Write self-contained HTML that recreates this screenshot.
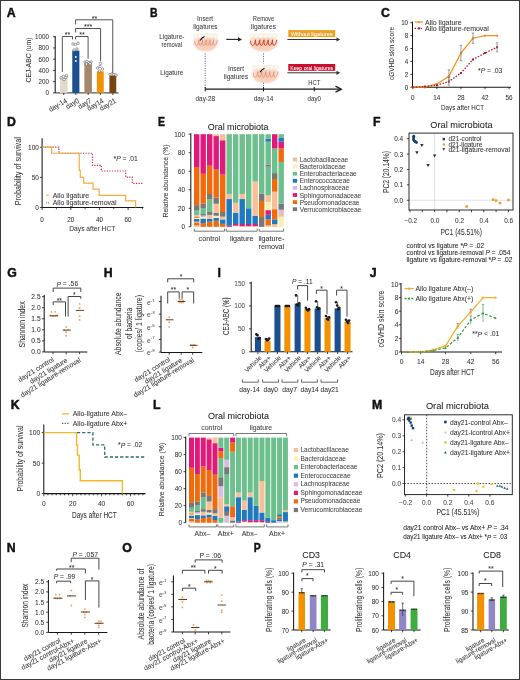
<!DOCTYPE html>
<html><head><meta charset="utf-8"><style>
html,body{margin:0;padding:0;background:#fff;}
svg{display:block;font-family:"Liberation Sans",sans-serif;filter:blur(0.4px);}
text{stroke-width:0.05px;}
</style></head><body>
<svg width="520" height="680" viewBox="0 0 520 680" fill="#333">
<rect x="0" y="0" width="520" height="680" fill="#fff"/>
<text x="6.80" y="12.70" font-size="12.3" text-anchor="start" dominant-baseline="central" font-weight="bold" fill="#111" textLength="8.88" lengthAdjust="spacingAndGlyphs" style="stroke-width:0.45px" stroke="#111">A</text>
<line x1="55.20" y1="36.00" x2="55.20" y2="92.90" stroke="#161616" stroke-width="1.05"/>
<line x1="53.00" y1="36.70" x2="55.20" y2="36.70" stroke="#161616" stroke-width="0.8"/>
<text x="49.00" y="36.70" font-size="6.5" text-anchor="end" dominant-baseline="central" textLength="13.88" lengthAdjust="spacingAndGlyphs" stroke="#333">1000</text>
<line x1="53.00" y1="47.94" x2="55.20" y2="47.94" stroke="#161616" stroke-width="0.8"/>
<text x="49.00" y="47.94" font-size="6.5" text-anchor="end" dominant-baseline="central" textLength="10.41" lengthAdjust="spacingAndGlyphs" stroke="#333">800</text>
<line x1="53.00" y1="59.18" x2="55.20" y2="59.18" stroke="#161616" stroke-width="0.8"/>
<text x="49.00" y="59.18" font-size="6.5" text-anchor="end" dominant-baseline="central" textLength="10.41" lengthAdjust="spacingAndGlyphs" stroke="#333">600</text>
<line x1="53.00" y1="70.42" x2="55.20" y2="70.42" stroke="#161616" stroke-width="0.8"/>
<text x="49.00" y="70.42" font-size="6.5" text-anchor="end" dominant-baseline="central" textLength="10.41" lengthAdjust="spacingAndGlyphs" stroke="#333">400</text>
<line x1="53.00" y1="81.66" x2="55.20" y2="81.66" stroke="#161616" stroke-width="0.8"/>
<text x="49.00" y="81.66" font-size="6.5" text-anchor="end" dominant-baseline="central" textLength="10.41" lengthAdjust="spacingAndGlyphs" stroke="#333">200</text>
<line x1="53.00" y1="92.90" x2="55.20" y2="92.90" stroke="#161616" stroke-width="0.8"/>
<text x="49.00" y="92.90" font-size="6.5" text-anchor="end" dominant-baseline="central" textLength="3.47" lengthAdjust="spacingAndGlyphs" stroke="#333">0</text>
<text x="28.80" y="60.00" font-size="7.8" text-anchor="middle" dominant-baseline="central" textLength="45.00" lengthAdjust="spacingAndGlyphs" transform="rotate(-90 28.80 60.00)" stroke="#333">CEJ-ABC (um)</text>
<line x1="55.20" y1="92.90" x2="118.50" y2="92.90" stroke="#161616" stroke-width="0.9"/>
<rect x="60.00" y="78.75" width="7.50" height="14.15" fill="#e2d8cc"/>
<line x1="63.75" y1="92.90" x2="63.75" y2="95.00" stroke="#161616" stroke-width="0.8"/>
<rect x="72.25" y="50.60" width="7.15" height="42.30" fill="#1b4f8f"/>
<line x1="75.83" y1="92.90" x2="75.83" y2="95.00" stroke="#161616" stroke-width="0.8"/>
<rect x="84.40" y="63.10" width="7.50" height="29.80" fill="#a5876b"/>
<line x1="88.15" y1="92.90" x2="88.15" y2="95.00" stroke="#161616" stroke-width="0.8"/>
<rect x="96.90" y="71.25" width="6.85" height="21.65" fill="#f39200"/>
<line x1="100.33" y1="92.90" x2="100.33" y2="95.00" stroke="#161616" stroke-width="0.8"/>
<rect x="109.40" y="75.60" width="6.85" height="17.30" fill="#7a4316"/>
<line x1="112.83" y1="92.90" x2="112.83" y2="95.00" stroke="#161616" stroke-width="0.8"/>
<circle cx="61.00" cy="77.80" r="1.25" fill="#fff" stroke="#555" stroke-width="0.55"/>
<circle cx="63.50" cy="76.50" r="1.25" fill="#fff" stroke="#555" stroke-width="0.55"/>
<circle cx="66.00" cy="77.50" r="1.25" fill="#fff" stroke="#555" stroke-width="0.55"/>
<circle cx="64.00" cy="79.50" r="1.25" fill="#fff" stroke="#555" stroke-width="0.55"/>
<circle cx="66.50" cy="75.50" r="1.25" fill="#fff" stroke="#555" stroke-width="0.55"/>
<circle cx="73.00" cy="44.00" r="1.25" fill="#fff" stroke="#555" stroke-width="0.55"/>
<circle cx="75.50" cy="44.50" r="1.25" fill="#fff" stroke="#555" stroke-width="0.55"/>
<circle cx="78.00" cy="43.20" r="1.25" fill="#fff" stroke="#555" stroke-width="0.55"/>
<circle cx="77.00" cy="49.00" r="1.25" fill="#fff" stroke="#555" stroke-width="0.55"/>
<circle cx="74.00" cy="50.00" r="1.25" fill="#fff" stroke="#555" stroke-width="0.55"/>
<circle cx="85.00" cy="62.00" r="1.25" fill="#fff" stroke="#555" stroke-width="0.55"/>
<circle cx="87.00" cy="61.50" r="1.25" fill="#fff" stroke="#555" stroke-width="0.55"/>
<circle cx="89.00" cy="62.50" r="1.25" fill="#fff" stroke="#555" stroke-width="0.55"/>
<circle cx="91.00" cy="62.00" r="1.25" fill="#fff" stroke="#555" stroke-width="0.55"/>
<circle cx="86.50" cy="64.00" r="1.25" fill="#fff" stroke="#555" stroke-width="0.55"/>
<circle cx="90.00" cy="63.70" r="1.25" fill="#fff" stroke="#555" stroke-width="0.55"/>
<circle cx="97.50" cy="68.00" r="1.25" fill="#fff" stroke="#555" stroke-width="0.55"/>
<circle cx="100.00" cy="66.50" r="1.25" fill="#fff" stroke="#555" stroke-width="0.55"/>
<circle cx="102.50" cy="69.00" r="1.25" fill="#fff" stroke="#555" stroke-width="0.55"/>
<circle cx="100.50" cy="63.50" r="1.25" fill="#fff" stroke="#555" stroke-width="0.55"/>
<circle cx="99.50" cy="71.00" r="1.25" fill="#fff" stroke="#555" stroke-width="0.55"/>
<circle cx="110.00" cy="74.50" r="1.25" fill="#fff" stroke="#555" stroke-width="0.55"/>
<circle cx="112.00" cy="74.00" r="1.25" fill="#fff" stroke="#555" stroke-width="0.55"/>
<circle cx="114.00" cy="74.50" r="1.25" fill="#fff" stroke="#555" stroke-width="0.55"/>
<circle cx="116.00" cy="75.00" r="1.25" fill="#fff" stroke="#555" stroke-width="0.55"/>
<circle cx="75.80" cy="57.00" r="0.9" fill="#fff"/>
<circle cx="75.80" cy="61.00" r="0.9" fill="#fff"/>
<polyline points="62.30,72.00 62.30,36.50 72.50,36.50 72.50,39.40" fill="none" stroke="#4a4a4a" stroke-width="0.95"/>
<polyline points="75.60,39.40 75.60,36.50 88.10,36.50 88.10,58.70" fill="none" stroke="#4a4a4a" stroke-width="0.95"/>
<polyline points="75.60,32.50 75.60,28.50 100.60,28.50 100.60,61.20" fill="none" stroke="#4a4a4a" stroke-width="0.95"/>
<polyline points="75.60,24.40 75.60,19.80 112.75,19.80 112.75,73.00" fill="none" stroke="#4a4a4a" stroke-width="0.95"/>
<text x="67.40" y="34.90" font-size="7" text-anchor="middle" dominant-baseline="central" stroke="#333">**</text>
<text x="81.90" y="34.90" font-size="7" text-anchor="middle" dominant-baseline="central" stroke="#333">**</text>
<text x="88.20" y="26.80" font-size="7" text-anchor="middle" dominant-baseline="central" stroke="#333">***</text>
<text x="94.40" y="18.00" font-size="7" text-anchor="middle" dominant-baseline="central" stroke="#333">**</text>
<text x="66.35" y="100.00" font-size="7.2" text-anchor="end" dominant-baseline="central" textLength="19.81" lengthAdjust="spacingAndGlyphs" transform="rotate(-30 66.35 100.00)" stroke="#333">day-14</text>
<text x="78.40" y="100.00" font-size="7.2" text-anchor="end" dominant-baseline="central" textLength="14.05" lengthAdjust="spacingAndGlyphs" transform="rotate(-30 78.40 100.00)" stroke="#333">day0</text>
<text x="90.75" y="100.00" font-size="7.2" text-anchor="end" dominant-baseline="central" textLength="14.05" lengthAdjust="spacingAndGlyphs" transform="rotate(-30 90.75 100.00)" stroke="#333">day7</text>
<text x="102.90" y="100.00" font-size="7.2" text-anchor="end" dominant-baseline="central" textLength="17.65" lengthAdjust="spacingAndGlyphs" transform="rotate(-30 102.90 100.00)" stroke="#333">day14</text>
<text x="115.40" y="100.00" font-size="7.2" text-anchor="end" dominant-baseline="central" textLength="17.65" lengthAdjust="spacingAndGlyphs" transform="rotate(-30 115.40 100.00)" stroke="#333">day21</text>
<text x="149.90" y="12.60" font-size="12.3" text-anchor="start" dominant-baseline="central" font-weight="bold" fill="#111" textLength="7.55" lengthAdjust="spacingAndGlyphs" style="stroke-width:0.45px" stroke="#111">B</text>
<text x="171.80" y="36.90" font-size="7.2" text-anchor="middle" dominant-baseline="central" fill="#3a3a3a" textLength="25.00" lengthAdjust="spacingAndGlyphs" stroke="#3a3a3a">Ligature-</text>
<text x="171.80" y="44.50" font-size="7.2" text-anchor="middle" dominant-baseline="central" fill="#3a3a3a" textLength="20.50" lengthAdjust="spacingAndGlyphs" stroke="#3a3a3a">removal</text>
<text x="171.80" y="72.20" font-size="7.2" text-anchor="middle" dominant-baseline="central" fill="#3a3a3a" textLength="23.00" lengthAdjust="spacingAndGlyphs" stroke="#3a3a3a">Ligature</text>
<text x="205.10" y="18.10" font-size="7.2" text-anchor="middle" dominant-baseline="central" fill="#3a3a3a" textLength="16.00" lengthAdjust="spacingAndGlyphs" stroke="#3a3a3a">Insert</text>
<text x="205.30" y="26.20" font-size="7.2" text-anchor="middle" dominant-baseline="central" fill="#3a3a3a" textLength="24.30" lengthAdjust="spacingAndGlyphs" stroke="#3a3a3a">ligatures</text>
<text x="263.50" y="18.10" font-size="7.2" text-anchor="middle" dominant-baseline="central" fill="#3a3a3a" textLength="21.30" lengthAdjust="spacingAndGlyphs" stroke="#3a3a3a">Remove</text>
<text x="263.50" y="26.20" font-size="7.2" text-anchor="middle" dominant-baseline="central" fill="#3a3a3a" textLength="25.00" lengthAdjust="spacingAndGlyphs" stroke="#3a3a3a">ligatures</text>
<text x="236.00" y="68.80" font-size="7.2" text-anchor="middle" dominant-baseline="central" fill="#3a3a3a" textLength="16.00" lengthAdjust="spacingAndGlyphs" stroke="#3a3a3a">Insert</text>
<text x="236.00" y="76.50" font-size="7.2" text-anchor="middle" dominant-baseline="central" fill="#3a3a3a" textLength="24.30" lengthAdjust="spacingAndGlyphs" stroke="#3a3a3a">ligatures</text>
<text x="314.30" y="82.60" font-size="7.2" text-anchor="middle" dominant-baseline="central" fill="#3a3a3a" textLength="12.00" lengthAdjust="spacingAndGlyphs" stroke="#3a3a3a">HCT</text>
<text x="205.30" y="98.30" font-size="7.2" text-anchor="middle" dominant-baseline="central" fill="#3a3a3a" textLength="19.50" lengthAdjust="spacingAndGlyphs" stroke="#3a3a3a">day-28</text>
<text x="263.50" y="98.30" font-size="7.2" text-anchor="middle" dominant-baseline="central" fill="#3a3a3a" textLength="19.50" lengthAdjust="spacingAndGlyphs" stroke="#3a3a3a">day-14</text>
<text x="314.30" y="98.30" font-size="7.2" text-anchor="middle" dominant-baseline="central" fill="#3a3a3a" textLength="13.50" lengthAdjust="spacingAndGlyphs" stroke="#3a3a3a">day0</text>
<defs>
<radialGradient id="gum" cx="50%" cy="45%" r="55%">
<stop offset="0%" stop-color="#f6c9b3"/><stop offset="65%" stop-color="#f9dccc"/><stop offset="100%" stop-color="#fef4ee"/>
</radialGradient>
<filter id="sb" x="-20%" y="-20%" width="140%" height="140%"><feGaussianBlur stdDeviation="0.45"/></filter>
</defs>
<g filter="url(#sb)"><ellipse cx="205.7" cy="42.8" rx="13.0" ry="9.4" fill="url(#gum)"/><ellipse cx="205.7" cy="46.3" rx="10.0" ry="4.8" fill="#f4c2a4" opacity="0.45"/><ellipse cx="195.9" cy="35.8" rx="2.6" ry="2.3" fill="#fbf7ef" stroke="#e6dccc" stroke-width="0.3"/><ellipse cx="199.8" cy="35.8" rx="2.6" ry="2.3" fill="#fbf7ef" stroke="#e6dccc" stroke-width="0.3"/><ellipse cx="203.7" cy="35.8" rx="2.6" ry="2.3" fill="#fbf7ef" stroke="#e6dccc" stroke-width="0.3"/><ellipse cx="207.7" cy="35.8" rx="2.6" ry="2.3" fill="#fbf7ef" stroke="#e6dccc" stroke-width="0.3"/><ellipse cx="211.6" cy="35.8" rx="2.6" ry="2.3" fill="#fbf7ef" stroke="#e6dccc" stroke-width="0.3"/><ellipse cx="215.5" cy="35.8" rx="2.6" ry="2.3" fill="#fbf7ef" stroke="#e6dccc" stroke-width="0.3"/><path d="M194.7,40.8 C194.9,47.3 197.8,47.3 199.0,39.8 C198.6,47.3 201.4,47.3 202.6,39.8 C202.2,47.3 205.1,47.3 206.3,39.8 C205.9,47.3 208.8,47.3 210.0,39.8 C209.6,47.3 212.4,47.3 213.6,39.8 C213.2,47.3 216.1,47.3 217.3,39.8 " fill="none" stroke="#e58a78" stroke-width="0.75" stroke-linejoin="round"/><path d="M200.0,40.5 Q202.0,37.5 204.5,36.5" fill="none" stroke="#111" stroke-width="1.1"/></g>
<g filter="url(#sb)"><ellipse cx="263.4" cy="42.8" rx="14.8" ry="9.4" fill="url(#gum)"/><ellipse cx="263.4" cy="46.3" rx="11.8" ry="4.8" fill="#f4c2a4" opacity="0.45"/><ellipse cx="251.8" cy="35.8" rx="2.6" ry="2.3" fill="#fbf7ef" stroke="#e6dccc" stroke-width="0.3"/><ellipse cx="256.5" cy="35.8" rx="2.6" ry="2.3" fill="#fbf7ef" stroke="#e6dccc" stroke-width="0.3"/><ellipse cx="261.1" cy="35.8" rx="2.6" ry="2.3" fill="#fbf7ef" stroke="#e6dccc" stroke-width="0.3"/><ellipse cx="265.7" cy="35.8" rx="2.6" ry="2.3" fill="#fbf7ef" stroke="#e6dccc" stroke-width="0.3"/><ellipse cx="270.3" cy="35.8" rx="2.6" ry="2.3" fill="#fbf7ef" stroke="#e6dccc" stroke-width="0.3"/><ellipse cx="274.9" cy="35.8" rx="2.6" ry="2.3" fill="#fbf7ef" stroke="#e6dccc" stroke-width="0.3"/><path d="M250.6,40.8 C250.8,47.3 254.3,47.3 255.5,39.8 C255.1,47.3 258.5,47.3 259.8,39.8 C259.3,47.3 262.8,47.3 264.0,39.8 C263.6,47.3 267.0,47.3 268.2,39.8 C267.8,47.3 271.3,47.3 272.5,39.8 C272.1,47.3 275.5,47.3 276.8,39.8 " fill="none" stroke="#d63a2c" stroke-width="1.0" stroke-linejoin="round"/></g>
<g filter="url(#sb)"><ellipse cx="265.3" cy="74.6" rx="14.0" ry="9.4" fill="url(#gum)"/><ellipse cx="265.3" cy="78.1" rx="11.0" ry="4.8" fill="#f4c2a4" opacity="0.45"/><ellipse cx="254.5" cy="67.5" rx="2.6" ry="2.3" fill="#fbf7ef" stroke="#e6dccc" stroke-width="0.3"/><ellipse cx="258.8" cy="67.5" rx="2.6" ry="2.3" fill="#fbf7ef" stroke="#e6dccc" stroke-width="0.3"/><ellipse cx="263.1" cy="67.5" rx="2.6" ry="2.3" fill="#fbf7ef" stroke="#e6dccc" stroke-width="0.3"/><ellipse cx="267.5" cy="67.5" rx="2.6" ry="2.3" fill="#fbf7ef" stroke="#e6dccc" stroke-width="0.3"/><ellipse cx="271.8" cy="67.5" rx="2.6" ry="2.3" fill="#fbf7ef" stroke="#e6dccc" stroke-width="0.3"/><ellipse cx="276.1" cy="67.5" rx="2.6" ry="2.3" fill="#fbf7ef" stroke="#e6dccc" stroke-width="0.3"/><path d="M253.3,72.6 C253.5,79.1 256.7,79.1 257.9,71.6 C257.5,79.1 260.7,79.1 261.9,71.6 C261.5,79.1 264.7,79.1 265.9,71.6 C265.5,79.1 268.7,79.1 269.9,71.6 C269.5,79.1 272.7,79.1 273.9,71.6 C273.5,79.1 276.7,79.1 277.9,71.6 " fill="none" stroke="#e58a78" stroke-width="0.75" stroke-linejoin="round"/><path d="M260.0,72.2 Q262.0,69.2 264.5,68.2" fill="none" stroke="#111" stroke-width="1.1"/></g>
<line x1="226.30" y1="39.40" x2="238.50" y2="39.40" stroke="#222" stroke-width="1.1"/>
<polygon points="238,37.3 242,39.4 238,41.5" fill="#222"/>
<line x1="205.20" y1="53.50" x2="205.20" y2="88.50" stroke="#333" stroke-width="0.8" stroke-dasharray="1,1.4"/>
<line x1="263.50" y1="53.50" x2="263.50" y2="63.50" stroke="#333" stroke-width="0.8" stroke-dasharray="1,1.4"/>
<line x1="263.50" y1="82.70" x2="263.50" y2="88.50" stroke="#333" stroke-width="0.8" stroke-dasharray="1,1.4"/>
<rect x="288.30" y="30.10" width="46.90" height="7.00" fill="#f0a020"/>
<text x="311.70" y="33.70" font-size="6.2" text-anchor="middle" dominant-baseline="central" fill="#fff" textLength="42.00" lengthAdjust="spacingAndGlyphs" stroke="#fff">Without ligatures</text>
<rect x="288.30" y="64.00" width="46.90" height="6.80" fill="#c8102e"/>
<text x="311.70" y="67.50" font-size="6.2" text-anchor="middle" dominant-baseline="central" fill="#fff" textLength="43.00" lengthAdjust="spacingAndGlyphs" stroke="#fff">Keep oral ligatures</text>
<line x1="287.40" y1="39.50" x2="337.50" y2="39.50" stroke="#333" stroke-width="1.0"/>
<polygon points="336.5,37.4 340.2,39.5 336.5,41.6" fill="#333"/>
<line x1="287.40" y1="72.80" x2="337.50" y2="72.80" stroke="#333" stroke-width="1.0"/>
<polygon points="336.5,70.7 340.2,72.8 336.5,74.9" fill="#333"/>
<line x1="205.20" y1="89.20" x2="340.00" y2="89.20" stroke="#1a1a1a" stroke-width="1.3"/>
<polyline points="335.50,86.20 341.30,89.20 335.50,92.20" fill="none" stroke="#1a1a1a" stroke-width="1.3"/>
<line x1="205.20" y1="87.00" x2="205.20" y2="91.40" stroke="#1a1a1a" stroke-width="1.0"/>
<line x1="263.50" y1="87.00" x2="263.50" y2="91.40" stroke="#1a1a1a" stroke-width="1.0"/>
<line x1="314.30" y1="87.00" x2="314.30" y2="91.40" stroke="#1a1a1a" stroke-width="1.0"/>
<text x="381.00" y="12.60" font-size="12.3" text-anchor="start" dominant-baseline="central" font-weight="bold" fill="#111" textLength="8.88" lengthAdjust="spacingAndGlyphs" style="stroke-width:0.45px" stroke="#111">C</text>
<line x1="412.50" y1="21.50" x2="412.50" y2="87.20" stroke="#161616" stroke-width="1.05"/>
<line x1="410.30" y1="22.75" x2="412.50" y2="22.75" stroke="#161616" stroke-width="0.8"/>
<text x="408.10" y="22.75" font-size="6.5" text-anchor="end" dominant-baseline="central" textLength="6.94" lengthAdjust="spacingAndGlyphs" stroke="#333">10</text>
<line x1="410.30" y1="35.64" x2="412.50" y2="35.64" stroke="#161616" stroke-width="0.8"/>
<text x="408.10" y="35.64" font-size="6.5" text-anchor="end" dominant-baseline="central" textLength="3.47" lengthAdjust="spacingAndGlyphs" stroke="#333">8</text>
<line x1="410.30" y1="48.53" x2="412.50" y2="48.53" stroke="#161616" stroke-width="0.8"/>
<text x="408.10" y="48.53" font-size="6.5" text-anchor="end" dominant-baseline="central" textLength="3.47" lengthAdjust="spacingAndGlyphs" stroke="#333">6</text>
<line x1="410.30" y1="61.42" x2="412.50" y2="61.42" stroke="#161616" stroke-width="0.8"/>
<text x="408.10" y="61.42" font-size="6.5" text-anchor="end" dominant-baseline="central" textLength="3.47" lengthAdjust="spacingAndGlyphs" stroke="#333">4</text>
<line x1="410.30" y1="74.31" x2="412.50" y2="74.31" stroke="#161616" stroke-width="0.8"/>
<text x="408.10" y="74.31" font-size="6.5" text-anchor="end" dominant-baseline="central" textLength="3.47" lengthAdjust="spacingAndGlyphs" stroke="#333">2</text>
<line x1="410.30" y1="87.20" x2="412.50" y2="87.20" stroke="#161616" stroke-width="0.8"/>
<text x="408.10" y="87.20" font-size="6.5" text-anchor="end" dominant-baseline="central" textLength="3.47" lengthAdjust="spacingAndGlyphs" stroke="#333">0</text>
<line x1="412.50" y1="87.20" x2="511.00" y2="87.20" stroke="#161616" stroke-width="1.05"/>
<line x1="412.80" y1="87.00" x2="412.80" y2="89.20" stroke="#161616" stroke-width="0.8"/>
<text x="412.80" y="97.00" font-size="6.7" text-anchor="middle" dominant-baseline="central" textLength="3.54" lengthAdjust="spacingAndGlyphs" stroke="#333">0</text>
<line x1="436.88" y1="87.00" x2="436.88" y2="89.20" stroke="#161616" stroke-width="0.8"/>
<text x="436.88" y="97.00" font-size="6.7" text-anchor="middle" dominant-baseline="central" textLength="7.08" lengthAdjust="spacingAndGlyphs" stroke="#333">14</text>
<line x1="460.95" y1="87.00" x2="460.95" y2="89.20" stroke="#161616" stroke-width="0.8"/>
<text x="460.95" y="97.00" font-size="6.7" text-anchor="middle" dominant-baseline="central" textLength="7.08" lengthAdjust="spacingAndGlyphs" stroke="#333">28</text>
<line x1="485.03" y1="87.00" x2="485.03" y2="89.20" stroke="#161616" stroke-width="0.8"/>
<text x="485.03" y="97.00" font-size="6.7" text-anchor="middle" dominant-baseline="central" textLength="7.08" lengthAdjust="spacingAndGlyphs" stroke="#333">42</text>
<line x1="509.10" y1="87.00" x2="509.10" y2="89.20" stroke="#161616" stroke-width="0.8"/>
<text x="509.10" y="97.00" font-size="6.7" text-anchor="middle" dominant-baseline="central" textLength="7.08" lengthAdjust="spacingAndGlyphs" stroke="#333">56</text>
<text x="462.60" y="107.80" font-size="8" text-anchor="middle" dominant-baseline="central" textLength="43.20" lengthAdjust="spacingAndGlyphs" stroke="#333">Days after HCT</text>
<text x="391.80" y="53.50" font-size="8" text-anchor="middle" dominant-baseline="central" textLength="53.00" lengthAdjust="spacingAndGlyphs" transform="rotate(-90 391.80 53.50)" stroke="#333">cGVHD skin score</text>
<polyline points="412.80,87.20 424.84,87.20 436.88,83.98 448.91,76.24 460.95,53.04 472.99,38.22 485.03,35.64 497.06,35.64" fill="none" stroke="#f0941e" stroke-width="1.3"/>
<polyline points="412.80,87.20 424.84,86.56 436.88,85.27 448.91,81.40 460.95,73.02 472.99,59.49 485.03,53.04 497.06,47.24" fill="none" stroke="#b3192e" stroke-width="1.3" stroke-dasharray="1.5,1.5"/>
<circle cx="412.80" cy="87.20" r="1.2" fill="#f0941e"/>
<circle cx="424.84" cy="87.20" r="1.2" fill="#f0941e"/>
<circle cx="436.88" cy="83.98" r="1.2" fill="#f0941e"/>
<circle cx="448.91" cy="76.24" r="1.2" fill="#f0941e"/>
<circle cx="460.95" cy="53.04" r="1.2" fill="#f0941e"/>
<circle cx="472.99" cy="38.22" r="1.2" fill="#f0941e"/>
<circle cx="485.03" cy="35.64" r="1.2" fill="#f0941e"/>
<circle cx="497.06" cy="35.64" r="1.2" fill="#f0941e"/>
<rect x="411.80" y="86.20" width="2.00" height="2.00" fill="#b3192e"/>
<rect x="423.84" y="85.56" width="2.00" height="2.00" fill="#b3192e"/>
<rect x="435.88" y="84.27" width="2.00" height="2.00" fill="#b3192e"/>
<rect x="447.91" y="80.40" width="2.00" height="2.00" fill="#b3192e"/>
<rect x="459.95" y="72.02" width="2.00" height="2.00" fill="#b3192e"/>
<rect x="471.99" y="58.49" width="2.00" height="2.00" fill="#b3192e"/>
<rect x="484.03" y="52.04" width="2.00" height="2.00" fill="#b3192e"/>
<rect x="496.06" y="46.24" width="2.00" height="2.00" fill="#b3192e"/>
<line x1="448.91" y1="82.69" x2="448.91" y2="69.80" stroke="#777" stroke-width="0.7"/>
<line x1="447.71" y1="69.80" x2="450.11" y2="69.80" stroke="#777" stroke-width="0.7"/>
<line x1="447.71" y1="82.69" x2="450.11" y2="82.69" stroke="#777" stroke-width="0.7"/>
<line x1="460.95" y1="60.78" x2="460.95" y2="45.31" stroke="#777" stroke-width="0.7"/>
<line x1="459.75" y1="45.31" x2="462.15" y2="45.31" stroke="#777" stroke-width="0.7"/>
<line x1="459.75" y1="60.78" x2="462.15" y2="60.78" stroke="#777" stroke-width="0.7"/>
<line x1="472.99" y1="43.37" x2="472.99" y2="33.06" stroke="#777" stroke-width="0.7"/>
<line x1="471.79" y1="33.06" x2="474.19" y2="33.06" stroke="#777" stroke-width="0.7"/>
<line x1="471.79" y1="43.37" x2="474.19" y2="43.37" stroke="#777" stroke-width="0.7"/>
<line x1="448.91" y1="85.27" x2="448.91" y2="77.53" stroke="#777" stroke-width="0.7"/>
<line x1="447.71" y1="77.53" x2="450.11" y2="77.53" stroke="#777" stroke-width="0.7"/>
<line x1="447.71" y1="85.27" x2="450.11" y2="85.27" stroke="#777" stroke-width="0.7"/>
<line x1="497.06" y1="51.75" x2="497.06" y2="42.73" stroke="#777" stroke-width="0.7"/>
<line x1="495.86" y1="42.73" x2="498.26" y2="42.73" stroke="#777" stroke-width="0.7"/>
<line x1="495.86" y1="51.75" x2="498.26" y2="51.75" stroke="#777" stroke-width="0.7"/>
<line x1="414.60" y1="22.00" x2="423.00" y2="22.00" stroke="#f0941e" stroke-width="1.2"/>
<circle cx="418.80" cy="22.00" r="1.1" fill="#f0941e"/>
<text x="425.00" y="22.00" font-size="7" text-anchor="start" dominant-baseline="central" stroke="#333">Allo ligature</text>
<line x1="414.60" y1="28.40" x2="423.00" y2="28.40" stroke="#b3192e" stroke-width="1.2" stroke-dasharray="1.5,1.5"/>
<rect x="418.00" y="27.40" width="2.00" height="2.00" fill="#b3192e"/>
<text x="425.00" y="28.40" font-size="7" text-anchor="start" dominant-baseline="central" stroke="#333">Allo ligature-removal</text>
<text x="478" y="70" font-size="6.8" dominant-baseline="central" fill="#333" stroke="#333">*<tspan font-style="italic">P</tspan> = .03</text>
<text x="7.00" y="122.20" font-size="12.3" text-anchor="start" dominant-baseline="central" font-weight="bold" fill="#111" textLength="8.88" lengthAdjust="spacingAndGlyphs" style="stroke-width:0.45px" stroke="#111">D</text>
<line x1="42.10" y1="138.30" x2="42.10" y2="207.50" stroke="#161616" stroke-width="1.05"/>
<line x1="39.90" y1="147.20" x2="42.10" y2="147.20" stroke="#161616" stroke-width="0.8"/>
<text x="38.90" y="147.20" font-size="6.8" text-anchor="end" dominant-baseline="central" textLength="10.78" lengthAdjust="spacingAndGlyphs" stroke="#333">100</text>
<line x1="39.90" y1="177.35" x2="42.10" y2="177.35" stroke="#161616" stroke-width="0.8"/>
<text x="38.90" y="177.35" font-size="6.8" text-anchor="end" dominant-baseline="central" textLength="7.18" lengthAdjust="spacingAndGlyphs" stroke="#333">50</text>
<line x1="39.90" y1="207.50" x2="42.10" y2="207.50" stroke="#161616" stroke-width="0.8"/>
<text x="38.90" y="207.50" font-size="6.8" text-anchor="end" dominant-baseline="central" textLength="3.59" lengthAdjust="spacingAndGlyphs" stroke="#333">0</text>
<line x1="42.10" y1="207.50" x2="143.40" y2="207.50" stroke="#161616" stroke-width="1.05"/>
<line x1="42.10" y1="207.50" x2="42.10" y2="210.00" stroke="#161616" stroke-width="0.8"/>
<line x1="56.43" y1="207.50" x2="56.43" y2="209.30" stroke="#161616" stroke-width="0.7"/>
<line x1="70.76" y1="207.50" x2="70.76" y2="210.00" stroke="#161616" stroke-width="0.8"/>
<line x1="85.09" y1="207.50" x2="85.09" y2="209.30" stroke="#161616" stroke-width="0.7"/>
<line x1="99.42" y1="207.50" x2="99.42" y2="210.00" stroke="#161616" stroke-width="0.8"/>
<line x1="113.75" y1="207.50" x2="113.75" y2="209.30" stroke="#161616" stroke-width="0.7"/>
<line x1="128.08" y1="207.50" x2="128.08" y2="210.00" stroke="#161616" stroke-width="0.8"/>
<line x1="142.41" y1="207.50" x2="142.41" y2="209.30" stroke="#161616" stroke-width="0.7"/>
<text x="42.10" y="219.30" font-size="6.7" text-anchor="middle" dominant-baseline="central" textLength="3.54" lengthAdjust="spacingAndGlyphs" stroke="#333">0</text>
<text x="70.76" y="219.30" font-size="6.7" text-anchor="middle" dominant-baseline="central" textLength="7.08" lengthAdjust="spacingAndGlyphs" stroke="#333">20</text>
<text x="99.42" y="219.30" font-size="6.7" text-anchor="middle" dominant-baseline="central" textLength="7.08" lengthAdjust="spacingAndGlyphs" stroke="#333">40</text>
<text x="128.08" y="219.30" font-size="6.7" text-anchor="middle" dominant-baseline="central" textLength="7.08" lengthAdjust="spacingAndGlyphs" stroke="#333">60</text>
<text x="92.30" y="228.50" font-size="8" text-anchor="middle" dominant-baseline="central" textLength="46.00" lengthAdjust="spacingAndGlyphs" stroke="#333">Days after HCT</text>
<text x="17.60" y="171.20" font-size="8.3" text-anchor="middle" dominant-baseline="central" textLength="68.00" lengthAdjust="spacingAndGlyphs" transform="rotate(-90 17.60 171.20)" stroke="#333">Probability of survival</text>
<polyline points="42.10,147.20 58.90,147.20 58.90,153.23 92.50,153.23 92.50,165.29 101.30,165.29 101.30,171.02 125.70,171.02 125.70,177.05 132.30,177.05 132.30,183.38 143.40,183.38" fill="none" stroke="#cc3550" stroke-width="1.2" stroke-dasharray="1.3,1.3"/>
<polyline points="42.10,147.20 51.60,147.20 51.60,153.23 79.20,153.23 79.20,170.42 80.30,170.42 80.30,177.35 83.70,177.35 83.70,183.08 93.00,183.08 93.00,189.11 99.10,189.11 99.10,195.44 125.70,195.44 125.70,200.87 135.60,200.87 135.60,207.50" fill="none" stroke="#f0ad3f" stroke-width="1.2"/>
<text x="113.5" y="158.2" font-size="6.8" dominant-baseline="central" stroke="#333">*<tspan font-style="italic">P</tspan> = .01</text>
<line x1="46.00" y1="195.20" x2="49.40" y2="195.20" stroke="#f0ad3f" stroke-width="1.0"/>
<text x="52.70" y="195.20" font-size="7" text-anchor="start" dominant-baseline="central" stroke="#333">Allo ligature</text>
<line x1="46.00" y1="202.90" x2="49.40" y2="202.90" stroke="#cc3550" stroke-width="1.0" stroke-dasharray="1,1"/>
<text x="52.70" y="202.90" font-size="7" text-anchor="start" dominant-baseline="central" stroke="#333">Allo ligature-removal</text>
<text x="157.90" y="122.40" font-size="12.3" text-anchor="start" dominant-baseline="central" font-weight="bold" fill="#111" textLength="6.97" lengthAdjust="spacingAndGlyphs" style="stroke-width:0.45px" stroke="#111">E</text>
<text x="238.10" y="126.80" font-size="9.0" text-anchor="middle" dominant-baseline="central" fill="#222" textLength="60.80" lengthAdjust="spacingAndGlyphs" stroke="#222">Oral microbiota</text>
<line x1="190.80" y1="133.30" x2="190.80" y2="226.80" stroke="#161616" stroke-width="1.05"/>
<line x1="188.60" y1="134.20" x2="190.80" y2="134.20" stroke="#161616" stroke-width="0.8"/>
<text x="185.00" y="134.20" font-size="6.9" text-anchor="end" dominant-baseline="central" textLength="10.71" lengthAdjust="spacingAndGlyphs" stroke="#333">100</text>
<line x1="188.60" y1="152.72" x2="190.80" y2="152.72" stroke="#161616" stroke-width="0.8"/>
<text x="185.00" y="152.72" font-size="6.9" text-anchor="end" dominant-baseline="central" textLength="7.14" lengthAdjust="spacingAndGlyphs" stroke="#333">80</text>
<line x1="188.60" y1="171.24" x2="190.80" y2="171.24" stroke="#161616" stroke-width="0.8"/>
<text x="185.00" y="171.24" font-size="6.9" text-anchor="end" dominant-baseline="central" textLength="7.14" lengthAdjust="spacingAndGlyphs" stroke="#333">60</text>
<line x1="188.60" y1="189.76" x2="190.80" y2="189.76" stroke="#161616" stroke-width="0.8"/>
<text x="185.00" y="189.76" font-size="6.9" text-anchor="end" dominant-baseline="central" textLength="7.14" lengthAdjust="spacingAndGlyphs" stroke="#333">40</text>
<line x1="188.60" y1="208.28" x2="190.80" y2="208.28" stroke="#161616" stroke-width="0.8"/>
<text x="185.00" y="208.28" font-size="6.9" text-anchor="end" dominant-baseline="central" textLength="7.14" lengthAdjust="spacingAndGlyphs" stroke="#333">20</text>
<line x1="188.60" y1="226.80" x2="190.80" y2="226.80" stroke="#161616" stroke-width="0.8"/>
<text x="185.00" y="226.80" font-size="6.9" text-anchor="end" dominant-baseline="central" textLength="3.57" lengthAdjust="spacingAndGlyphs" stroke="#333">0</text>
<text x="165.80" y="181.00" font-size="8.0" text-anchor="middle" dominant-baseline="central" textLength="73.00" lengthAdjust="spacingAndGlyphs" transform="rotate(-90 165.80 181.00)" stroke="#333">Relative abundance (%)</text>
<rect x="194.00" y="225.32" width="5.40" height="1.53" fill="#f7bf97"/>
<rect x="194.00" y="222.36" width="5.40" height="3.01" fill="#ef6b0d"/>
<rect x="194.00" y="221.61" width="5.40" height="0.79" fill="#f7bf97"/>
<rect x="194.00" y="218.93" width="5.40" height="2.74" fill="#1f79be"/>
<rect x="194.00" y="217.82" width="5.40" height="1.16" fill="#fdf1ae"/>
<rect x="194.00" y="216.61" width="5.40" height="1.25" fill="#ef6b0d"/>
<rect x="194.00" y="214.85" width="5.40" height="1.81" fill="#f7bf97"/>
<rect x="194.00" y="210.41" width="5.40" height="4.49" fill="#6dc08e"/>
<rect x="194.00" y="205.13" width="5.40" height="5.33" fill="#777777"/>
<rect x="194.00" y="167.07" width="5.40" height="38.11" fill="#ef6b0d"/>
<rect x="194.00" y="134.20" width="5.40" height="32.92" fill="#e1197a"/>
<rect x="200.50" y="223.10" width="5.40" height="3.75" fill="#ef6b0d"/>
<rect x="200.50" y="218.47" width="5.40" height="4.68" fill="#1f79be"/>
<rect x="200.50" y="216.98" width="5.40" height="1.53" fill="#fdf1ae"/>
<rect x="200.50" y="215.50" width="5.40" height="1.53" fill="#d8bde0"/>
<rect x="200.50" y="214.02" width="5.40" height="1.53" fill="#777777"/>
<rect x="200.50" y="208.00" width="5.40" height="6.07" fill="#6dc08e"/>
<rect x="200.50" y="203.56" width="5.40" height="4.49" fill="#777777"/>
<rect x="200.50" y="173.74" width="5.40" height="29.87" fill="#ef6b0d"/>
<rect x="200.50" y="134.20" width="5.40" height="39.59" fill="#e1197a"/>
<rect x="207.00" y="221.61" width="5.40" height="5.24" fill="#ef6b0d"/>
<rect x="207.00" y="218.84" width="5.40" height="2.83" fill="#1f79be"/>
<rect x="207.00" y="214.85" width="5.40" height="4.03" fill="#f7bf97"/>
<rect x="207.00" y="211.98" width="5.40" height="2.92" fill="#777777"/>
<rect x="207.00" y="199.21" width="5.40" height="12.83" fill="#6dc08e"/>
<rect x="207.00" y="193.93" width="5.40" height="5.33" fill="#777777"/>
<rect x="207.00" y="165.68" width="5.40" height="28.29" fill="#ef6b0d"/>
<rect x="207.00" y="134.20" width="5.40" height="31.53" fill="#e1197a"/>
<rect x="213.50" y="220.78" width="5.40" height="6.07" fill="#ef6b0d"/>
<rect x="213.50" y="217.82" width="5.40" height="3.01" fill="#1f79be"/>
<rect x="213.50" y="215.69" width="5.40" height="2.18" fill="#fdf1ae"/>
<rect x="213.50" y="212.91" width="5.40" height="2.83" fill="#777777"/>
<rect x="213.50" y="203.65" width="5.40" height="9.31" fill="#f7bf97"/>
<rect x="213.50" y="197.63" width="5.40" height="6.07" fill="#777777"/>
<rect x="213.50" y="169.39" width="5.40" height="28.29" fill="#ef6b0d"/>
<rect x="213.50" y="136.05" width="5.40" height="33.39" fill="#e1197a"/>
<rect x="213.50" y="134.20" width="5.40" height="1.90" fill="#f7bf97"/>
<rect x="220.00" y="223.84" width="5.40" height="3.01" fill="#ef6b0d"/>
<rect x="220.00" y="219.39" width="5.40" height="4.49" fill="#1f79be"/>
<rect x="220.00" y="216.61" width="5.40" height="2.83" fill="#f7bf97"/>
<rect x="220.00" y="211.98" width="5.40" height="4.68" fill="#777777"/>
<rect x="220.00" y="174.48" width="5.40" height="37.55" fill="#ef6b0d"/>
<rect x="220.00" y="140.22" width="5.40" height="34.31" fill="#e1197a"/>
<rect x="220.00" y="134.20" width="5.40" height="6.07" fill="#f7bf97"/>
<rect x="226.50" y="225.69" width="5.40" height="1.16" fill="#e1197a"/>
<rect x="226.50" y="199.02" width="5.40" height="26.72" fill="#1f79be"/>
<rect x="226.50" y="193.93" width="5.40" height="5.14" fill="#f7bf97"/>
<rect x="226.50" y="134.20" width="5.40" height="59.78" fill="#6dc08e"/>
<rect x="233.00" y="225.69" width="5.40" height="1.16" fill="#fdf1ae"/>
<rect x="233.00" y="224.02" width="5.40" height="1.72" fill="#e1197a"/>
<rect x="233.00" y="212.91" width="5.40" height="11.16" fill="#1f79be"/>
<rect x="233.00" y="202.72" width="5.40" height="10.24" fill="#f7bf97"/>
<rect x="233.00" y="134.20" width="5.40" height="68.57" fill="#6dc08e"/>
<rect x="239.50" y="226.06" width="5.40" height="0.79" fill="#f7bf97"/>
<rect x="239.50" y="224.02" width="5.40" height="2.09" fill="#e1197a"/>
<rect x="239.50" y="199.02" width="5.40" height="25.05" fill="#1f79be"/>
<rect x="239.50" y="193.93" width="5.40" height="5.14" fill="#f7bf97"/>
<rect x="239.50" y="134.20" width="5.40" height="59.78" fill="#6dc08e"/>
<rect x="246.00" y="226.06" width="5.40" height="0.79" fill="#f7bf97"/>
<rect x="246.00" y="224.02" width="5.40" height="2.09" fill="#e1197a"/>
<rect x="246.00" y="208.28" width="5.40" height="15.79" fill="#1f79be"/>
<rect x="246.00" y="134.20" width="5.40" height="74.13" fill="#6dc08e"/>
<rect x="252.50" y="226.06" width="5.40" height="0.79" fill="#f7bf97"/>
<rect x="252.50" y="224.02" width="5.40" height="2.09" fill="#e1197a"/>
<rect x="252.50" y="215.69" width="5.40" height="8.38" fill="#1f79be"/>
<rect x="252.50" y="181.43" width="5.40" height="34.31" fill="#f7bf97"/>
<rect x="252.50" y="134.20" width="5.40" height="47.28" fill="#6dc08e"/>
<rect x="259.00" y="217.08" width="5.40" height="9.77" fill="#777777"/>
<rect x="259.00" y="200.87" width="5.40" height="16.25" fill="#ef6b0d"/>
<rect x="259.00" y="193.46" width="5.40" height="7.46" fill="#777777"/>
<rect x="259.00" y="134.20" width="5.40" height="59.31" fill="#6dc08e"/>
<rect x="265.50" y="225.32" width="5.40" height="1.53" fill="#f7bf97"/>
<rect x="265.50" y="219.39" width="5.40" height="5.98" fill="#ef6b0d"/>
<rect x="265.50" y="214.76" width="5.40" height="4.68" fill="#1f79be"/>
<rect x="265.50" y="210.13" width="5.40" height="4.68" fill="#e1197a"/>
<rect x="265.50" y="201.80" width="5.40" height="8.38" fill="#fdf1ae"/>
<rect x="265.50" y="195.32" width="5.40" height="6.53" fill="#f7bf97"/>
<rect x="265.50" y="166.61" width="5.40" height="28.76" fill="#6dc08e"/>
<rect x="265.50" y="164.76" width="5.40" height="1.90" fill="#777777"/>
<rect x="265.50" y="141.61" width="5.40" height="23.20" fill="#6dc08e"/>
<rect x="265.50" y="138.83" width="5.40" height="2.83" fill="#1f79be"/>
<rect x="265.50" y="134.20" width="5.40" height="4.68" fill="#6dc08e"/>
<rect x="272.00" y="224.02" width="5.40" height="2.83" fill="#f7bf97"/>
<rect x="272.00" y="219.39" width="5.40" height="4.68" fill="#1f79be"/>
<rect x="272.00" y="209.21" width="5.40" height="10.24" fill="#ef6b0d"/>
<rect x="272.00" y="191.61" width="5.40" height="17.64" fill="#f7bf97"/>
<rect x="272.00" y="179.02" width="5.40" height="12.64" fill="#ef6b0d"/>
<rect x="272.00" y="173.09" width="5.40" height="5.98" fill="#777777"/>
<rect x="272.00" y="148.37" width="5.40" height="24.77" fill="#6dc08e"/>
<rect x="272.00" y="134.20" width="5.40" height="14.22" fill="#e1197a"/>
<rect x="278.50" y="216.61" width="5.40" height="10.24" fill="#fdf1ae"/>
<rect x="278.50" y="213.84" width="5.40" height="2.83" fill="#f7bf97"/>
<rect x="278.50" y="209.67" width="5.40" height="4.22" fill="#d8bde0"/>
<rect x="278.50" y="203.65" width="5.40" height="6.07" fill="#777777"/>
<rect x="278.50" y="161.98" width="5.40" height="41.72" fill="#6dc08e"/>
<rect x="278.50" y="148.37" width="5.40" height="13.66" fill="#ef6b0d"/>
<rect x="278.50" y="141.61" width="5.40" height="6.81" fill="#e1197a"/>
<rect x="278.50" y="137.90" width="5.40" height="3.75" fill="#1f79be"/>
<rect x="278.50" y="134.20" width="5.40" height="3.75" fill="#6dc08e"/>
<polyline points="194.30,228.70 194.30,231.20 224.50,231.20 224.50,228.70" fill="none" stroke="#555" stroke-width="0.8"/>
<polyline points="226.20,228.70 226.20,231.20 257.20,231.20 257.20,228.70" fill="none" stroke="#555" stroke-width="0.8"/>
<polyline points="259.20,228.70 259.20,231.20 283.60,231.20 283.60,228.70" fill="none" stroke="#555" stroke-width="0.8"/>
<text x="209.40" y="238.80" font-size="7.2" text-anchor="middle" dominant-baseline="central" stroke="#333">control</text>
<text x="241.70" y="238.80" font-size="7.2" text-anchor="middle" dominant-baseline="central" stroke="#333">ligature</text>
<text x="271.40" y="238.80" font-size="7.2" text-anchor="middle" dominant-baseline="central" stroke="#333">ligature-</text>
<text x="271.40" y="246.30" font-size="7.2" text-anchor="middle" dominant-baseline="central" stroke="#333">removal</text>
<rect x="292.80" y="157.60" width="4.30" height="3.80" fill="#f7bf97"/>
<text x="299.70" y="159.50" font-size="6.9" text-anchor="start" dominant-baseline="central" fill="#444" textLength="48.50" lengthAdjust="spacingAndGlyphs" stroke="#444">Lactobacillaceae</text>
<rect x="292.80" y="164.70" width="4.30" height="3.80" fill="#fdf1ae"/>
<text x="299.70" y="166.60" font-size="6.9" text-anchor="start" dominant-baseline="central" fill="#444" textLength="45.90" lengthAdjust="spacingAndGlyphs" stroke="#444">Bacteroidaceae</text>
<rect x="292.80" y="171.80" width="4.30" height="3.80" fill="#6dc08e"/>
<text x="299.70" y="173.70" font-size="6.9" text-anchor="start" dominant-baseline="central" fill="#444" textLength="57.10" lengthAdjust="spacingAndGlyphs" stroke="#444">Enterobacteriaceae</text>
<rect x="292.80" y="178.90" width="4.30" height="3.80" fill="#1f79be"/>
<text x="299.70" y="180.80" font-size="6.9" text-anchor="start" dominant-baseline="central" fill="#444" textLength="50.20" lengthAdjust="spacingAndGlyphs" stroke="#444">Enterococcaceae</text>
<rect x="292.80" y="186.00" width="4.30" height="3.80" fill="#d8bde0"/>
<text x="299.70" y="187.90" font-size="6.9" text-anchor="start" dominant-baseline="central" fill="#444" textLength="49.30" lengthAdjust="spacingAndGlyphs" stroke="#444">Lachnospiraceae</text>
<rect x="292.80" y="193.10" width="4.30" height="3.80" fill="#e1197a"/>
<text x="299.70" y="195.00" font-size="6.9" text-anchor="start" dominant-baseline="central" fill="#444" textLength="61.50" lengthAdjust="spacingAndGlyphs" stroke="#444">Sphingomonadaceae</text>
<rect x="292.80" y="200.20" width="4.30" height="3.80" fill="#ef6b0d"/>
<text x="299.70" y="202.10" font-size="6.9" text-anchor="start" dominant-baseline="central" fill="#444" textLength="59.70" lengthAdjust="spacingAndGlyphs" stroke="#444">Pseudomonadaceae</text>
<rect x="292.80" y="207.30" width="4.30" height="3.80" fill="#777777"/>
<text x="299.70" y="209.20" font-size="6.9" text-anchor="start" dominant-baseline="central" fill="#444" textLength="61.50" lengthAdjust="spacingAndGlyphs" stroke="#444">Verrucomicrobiaceae</text>
<text x="373.10" y="122.10" font-size="12.3" text-anchor="start" dominant-baseline="central" font-weight="bold" fill="#111" textLength="7.51" lengthAdjust="spacingAndGlyphs" style="stroke-width:0.45px" stroke="#111">F</text>
<text x="461.50" y="124.50" font-size="9.2" text-anchor="middle" dominant-baseline="central" fill="#222" stroke="#222">Oral microbiota</text>
<line x1="434.60" y1="133.10" x2="434.60" y2="210.00" stroke="#cfcfcf" stroke-width="0.6"/>
<line x1="409.00" y1="200.25" x2="513.00" y2="200.25" stroke="#cfcfcf" stroke-width="0.6"/>
<rect x="409" y="133.1" width="104" height="76.9" fill="none" stroke="#222" stroke-width="0.95"/>
<line x1="406.80" y1="138.65" x2="409.00" y2="138.65" stroke="#161616" stroke-width="0.8"/>
<text x="403.20" y="138.65" font-size="6.8" text-anchor="end" dominant-baseline="central" textLength="8.98" lengthAdjust="spacingAndGlyphs" stroke="#333">0.4</text>
<line x1="406.80" y1="154.05" x2="409.00" y2="154.05" stroke="#161616" stroke-width="0.8"/>
<text x="403.20" y="154.05" font-size="6.8" text-anchor="end" dominant-baseline="central" textLength="8.98" lengthAdjust="spacingAndGlyphs" stroke="#333">0.3</text>
<line x1="406.80" y1="169.45" x2="409.00" y2="169.45" stroke="#161616" stroke-width="0.8"/>
<text x="403.20" y="169.45" font-size="6.8" text-anchor="end" dominant-baseline="central" textLength="8.98" lengthAdjust="spacingAndGlyphs" stroke="#333">0.2</text>
<line x1="406.80" y1="184.85" x2="409.00" y2="184.85" stroke="#161616" stroke-width="0.8"/>
<text x="403.20" y="184.85" font-size="6.8" text-anchor="end" dominant-baseline="central" textLength="8.98" lengthAdjust="spacingAndGlyphs" stroke="#333">0.1</text>
<line x1="406.80" y1="200.25" x2="409.00" y2="200.25" stroke="#161616" stroke-width="0.8"/>
<text x="403.20" y="200.25" font-size="6.8" text-anchor="end" dominant-baseline="central" textLength="8.98" lengthAdjust="spacingAndGlyphs" stroke="#333">0.0</text>
<line x1="410.00" y1="210.00" x2="410.00" y2="212.20" stroke="#161616" stroke-width="0.8"/>
<line x1="422.30" y1="210.00" x2="422.30" y2="212.20" stroke="#161616" stroke-width="0.8"/>
<line x1="434.60" y1="210.00" x2="434.60" y2="212.20" stroke="#161616" stroke-width="0.8"/>
<line x1="446.90" y1="210.00" x2="446.90" y2="212.20" stroke="#161616" stroke-width="0.8"/>
<line x1="459.20" y1="210.00" x2="459.20" y2="212.20" stroke="#161616" stroke-width="0.8"/>
<line x1="471.50" y1="210.00" x2="471.50" y2="212.20" stroke="#161616" stroke-width="0.8"/>
<line x1="483.80" y1="210.00" x2="483.80" y2="212.20" stroke="#161616" stroke-width="0.8"/>
<line x1="496.10" y1="210.00" x2="496.10" y2="212.20" stroke="#161616" stroke-width="0.8"/>
<line x1="508.40" y1="210.00" x2="508.40" y2="212.20" stroke="#161616" stroke-width="0.8"/>
<text x="410.80" y="220.40" font-size="6.8" text-anchor="middle" dominant-baseline="central" textLength="12.75" lengthAdjust="spacingAndGlyphs" stroke="#333">−0.2</text>
<text x="434.90" y="220.40" font-size="6.8" text-anchor="middle" dominant-baseline="central" textLength="8.98" lengthAdjust="spacingAndGlyphs" stroke="#333">0.0</text>
<text x="459.50" y="220.40" font-size="6.8" text-anchor="middle" dominant-baseline="central" textLength="8.98" lengthAdjust="spacingAndGlyphs" stroke="#333">0.2</text>
<text x="484.10" y="220.40" font-size="6.8" text-anchor="middle" dominant-baseline="central" textLength="8.98" lengthAdjust="spacingAndGlyphs" stroke="#333">0.4</text>
<text x="508.70" y="220.40" font-size="6.8" text-anchor="middle" dominant-baseline="central" textLength="8.98" lengthAdjust="spacingAndGlyphs" stroke="#333">0.6</text>
<text x="461.20" y="231.90" font-size="8.4" text-anchor="middle" dominant-baseline="central" textLength="41.50" lengthAdjust="spacingAndGlyphs" stroke="#333">PC1 (45.51%)</text>
<text x="386.00" y="172.00" font-size="8.4" text-anchor="middle" dominant-baseline="central" textLength="42.00" lengthAdjust="spacingAndGlyphs" transform="rotate(-90 386.00 172.00)" stroke="#333">PC2 (20.14%)</text>
<circle cx="413.75" cy="136.25" r="1.45" fill="#173c73"/>
<circle cx="413.50" cy="139.75" r="1.45" fill="#173c73"/>
<circle cx="414.75" cy="141.25" r="1.45" fill="#173c73"/>
<circle cx="416.50" cy="142.50" r="1.45" fill="#173c73"/>
<circle cx="415.50" cy="141.80" r="1.45" fill="#173c73"/>
<circle cx="413.60" cy="137.80" r="1.45" fill="#173c73"/>
<polygon points="420.20,143.89 423.60,143.89 421.90,146.95" fill="#2d2d2d"/>
<polygon points="415.20,151.14 418.60,151.14 416.90,154.20" fill="#2d2d2d"/>
<polygon points="432.90,154.54 436.30,154.54 434.60,157.60" fill="#2d2d2d"/>
<polygon points="426.40,164.04 429.80,164.04 428.10,167.10" fill="#2d2d2d"/>
<circle cx="466.60" cy="206.60" r="1.5" fill="#e9a23b"/>
<circle cx="493.10" cy="199.60" r="1.5" fill="#e9a23b"/>
<circle cx="496.00" cy="200.60" r="1.5" fill="#e9a23b"/>
<circle cx="500.00" cy="203.00" r="1.5" fill="#e9a23b"/>
<circle cx="508.50" cy="200.10" r="1.5" fill="#e9a23b"/>
<rect x="442.60" y="137.90" width="2.40" height="2.40" fill="#173c73"/>
<circle cx="443.80" cy="144.50" r="1.3" fill="#e9a23b"/>
<polygon points="442.40,148.28 445.20,148.28 443.80,150.80" fill="#2d2d2d"/>
<text x="448.40" y="138.80" font-size="6.6" text-anchor="start" dominant-baseline="central" textLength="33.00" lengthAdjust="spacingAndGlyphs" stroke="#333">d21-control</text>
<text x="448.40" y="144.20" font-size="6.6" text-anchor="start" dominant-baseline="central" textLength="34.00" lengthAdjust="spacingAndGlyphs" stroke="#333">d21-ligature</text>
<text x="448.40" y="149.60" font-size="6.6" text-anchor="start" dominant-baseline="central" textLength="61.50" lengthAdjust="spacingAndGlyphs" stroke="#333">d21-ligature-removal</text>
<text x="406.5" y="245.1" font-size="6.7" dominant-baseline="central" fill="#222" textLength="77.7" lengthAdjust="spacingAndGlyphs" stroke="#222">control vs ligature *<tspan font-style="italic">P</tspan> = .02</text>
<text x="406.5" y="252.2" font-size="6.7" dominant-baseline="central" fill="#222" textLength="103.8" lengthAdjust="spacingAndGlyphs" stroke="#222">control vs ligature-removal <tspan font-style="italic">P</tspan> = .054</text>
<text x="406.5" y="259.2" font-size="6.7" dominant-baseline="central" fill="#222" textLength="106" lengthAdjust="spacingAndGlyphs" stroke="#222">ligature vs ligature-removal *<tspan font-style="italic">P</tspan> = .02</text>
<text x="7.30" y="272.90" font-size="12.3" text-anchor="start" dominant-baseline="central" font-weight="bold" fill="#111" textLength="9.57" lengthAdjust="spacingAndGlyphs" style="stroke-width:0.45px" stroke="#111">G</text>
<line x1="44.20" y1="295.00" x2="44.20" y2="351.90" stroke="#161616" stroke-width="1.05"/>
<line x1="42.00" y1="296.65" x2="44.20" y2="296.65" stroke="#161616" stroke-width="0.8"/>
<text x="40.60" y="296.65" font-size="7.0" text-anchor="end" dominant-baseline="central" textLength="9.24" lengthAdjust="spacingAndGlyphs" stroke="#333">2.5</text>
<line x1="42.00" y1="307.70" x2="44.20" y2="307.70" stroke="#161616" stroke-width="0.8"/>
<text x="40.60" y="307.70" font-size="7.0" text-anchor="end" dominant-baseline="central" textLength="9.24" lengthAdjust="spacingAndGlyphs" stroke="#333">2.0</text>
<line x1="42.00" y1="318.75" x2="44.20" y2="318.75" stroke="#161616" stroke-width="0.8"/>
<text x="40.60" y="318.75" font-size="7.0" text-anchor="end" dominant-baseline="central" textLength="9.24" lengthAdjust="spacingAndGlyphs" stroke="#333">1.5</text>
<line x1="42.00" y1="329.80" x2="44.20" y2="329.80" stroke="#161616" stroke-width="0.8"/>
<text x="40.60" y="329.80" font-size="7.0" text-anchor="end" dominant-baseline="central" textLength="9.24" lengthAdjust="spacingAndGlyphs" stroke="#333">1.0</text>
<line x1="42.00" y1="340.85" x2="44.20" y2="340.85" stroke="#161616" stroke-width="0.8"/>
<text x="40.60" y="340.85" font-size="7.0" text-anchor="end" dominant-baseline="central" textLength="9.24" lengthAdjust="spacingAndGlyphs" stroke="#333">0.5</text>
<line x1="42.00" y1="351.90" x2="44.20" y2="351.90" stroke="#161616" stroke-width="0.8"/>
<text x="40.60" y="351.90" font-size="7.0" text-anchor="end" dominant-baseline="central" textLength="9.24" lengthAdjust="spacingAndGlyphs" stroke="#333">0.0</text>
<text x="21.60" y="324.40" font-size="8.3" text-anchor="middle" dominant-baseline="central" textLength="46.00" lengthAdjust="spacingAndGlyphs" transform="rotate(-90 21.60 324.40)" stroke="#333">Shannon index</text>
<line x1="44.20" y1="351.90" x2="87.30" y2="351.90" stroke="#161616" stroke-width="1.05"/>
<line x1="53.00" y1="351.90" x2="53.00" y2="354.30" stroke="#161616" stroke-width="0.8"/>
<line x1="66.20" y1="351.90" x2="66.20" y2="354.30" stroke="#161616" stroke-width="0.8"/>
<line x1="79.60" y1="351.90" x2="79.60" y2="354.30" stroke="#161616" stroke-width="0.8"/>
<circle cx="51.50" cy="311.90" r="0.95" fill="#eda466"/>
<circle cx="55.20" cy="311.90" r="0.95" fill="#eda466"/>
<circle cx="50.50" cy="315.50" r="0.95" fill="#eda466"/>
<circle cx="53.00" cy="316.30" r="0.95" fill="#eda466"/>
<circle cx="55.50" cy="315.80" r="0.95" fill="#eda466"/>
<circle cx="57.00" cy="315.20" r="0.95" fill="#eda466"/>
<line x1="49.60" y1="315.80" x2="58.10" y2="315.80" stroke="#5a4025" stroke-width="1.0"/>
<circle cx="66.20" cy="327.00" r="0.95" fill="#eda466"/>
<circle cx="66.20" cy="332.20" r="0.95" fill="#eda466"/>
<circle cx="66.20" cy="335.80" r="0.95" fill="#eda466"/>
<circle cx="64.50" cy="330.10" r="0.95" fill="#eda466"/>
<circle cx="68.00" cy="330.10" r="0.95" fill="#eda466"/>
<line x1="62.70" y1="330.10" x2="70.70" y2="330.10" stroke="#5a4025" stroke-width="1.0"/>
<circle cx="79.60" cy="303.90" r="0.95" fill="#eda466"/>
<circle cx="79.60" cy="308.00" r="0.95" fill="#eda466"/>
<circle cx="79.60" cy="316.20" r="0.95" fill="#eda466"/>
<circle cx="79.60" cy="319.90" r="0.95" fill="#eda466"/>
<line x1="75.80" y1="310.40" x2="83.90" y2="310.40" stroke="#5a4025" stroke-width="1.0"/>
<polyline points="53.20,305.00 53.20,301.90 65.50,301.90 65.50,316.50" fill="none" stroke="#3c3c3c" stroke-width="0.95"/>
<text x="59.30" y="300.10" font-size="6.8" text-anchor="middle" dominant-baseline="central" stroke="#333">**</text>
<polyline points="68.10,316.50 68.10,296.50 80.80,296.50 80.80,298.80" fill="none" stroke="#3c3c3c" stroke-width="0.95"/>
<text x="74.40" y="294.50" font-size="6.8" text-anchor="middle" dominant-baseline="central" stroke="#333">*</text>
<polyline points="53.20,292.00 53.20,288.10 80.80,288.10 80.80,292.00" fill="none" stroke="#3c3c3c" stroke-width="0.95"/>
<text x="67.3" y="283.5" font-size="6.8" text-anchor="middle" dominant-baseline="central" stroke="#333"><tspan font-style="italic">P</tspan> = .56</text>
<text x="53.60" y="359.20" font-size="7.1" text-anchor="end" dominant-baseline="central" textLength="40.92" lengthAdjust="spacingAndGlyphs" transform="rotate(-31.5 53.60 359.20)" stroke="#333">day21 control</text>
<text x="66.90" y="360.00" font-size="7.1" text-anchor="end" dominant-baseline="central" textLength="42.82" lengthAdjust="spacingAndGlyphs" transform="rotate(-31.5 66.90 360.00)" stroke="#333">day21 ligature</text>
<text x="80.30" y="359.80" font-size="7.1" text-anchor="end" dominant-baseline="central" textLength="69.33" lengthAdjust="spacingAndGlyphs" transform="rotate(-31.5 80.30 359.80)" stroke="#333">day21 ligature-removal</text>
<text x="103.80" y="272.80" font-size="12.3" text-anchor="start" dominant-baseline="central" font-weight="bold" fill="#111" textLength="8.88" lengthAdjust="spacingAndGlyphs" style="stroke-width:0.45px" stroke="#111">H</text>
<line x1="161.00" y1="295.80" x2="161.00" y2="352.50" stroke="#161616" stroke-width="1.05"/>
<line x1="158.80" y1="301.50" x2="161.00" y2="301.50" stroke="#161616" stroke-width="0.8"/>
<text x="147" y="302.10" font-size="6.6" dominant-baseline="central" fill="#555" stroke="#555">e<tspan font-size="4.4" dy="-2.6">-1</tspan></text>
<line x1="158.80" y1="314.15" x2="161.00" y2="314.15" stroke="#161616" stroke-width="0.8"/>
<text x="147" y="314.75" font-size="6.6" dominant-baseline="central" fill="#555" stroke="#555">e<tspan font-size="4.4" dy="-2.6">-3</tspan></text>
<line x1="158.80" y1="326.80" x2="161.00" y2="326.80" stroke="#161616" stroke-width="0.8"/>
<text x="147" y="327.40" font-size="6.6" dominant-baseline="central" fill="#555" stroke="#555">e<tspan font-size="4.4" dy="-2.6">-5</tspan></text>
<line x1="158.80" y1="339.45" x2="161.00" y2="339.45" stroke="#161616" stroke-width="0.8"/>
<text x="147" y="340.05" font-size="6.6" dominant-baseline="central" fill="#555" stroke="#555">e<tspan font-size="4.4" dy="-2.6">-7</tspan></text>
<line x1="158.80" y1="352.10" x2="161.00" y2="352.10" stroke="#161616" stroke-width="0.8"/>
<text x="147" y="352.70" font-size="6.6" dominant-baseline="central" fill="#555" stroke="#555">e<tspan font-size="4.4" dy="-2.6">-9</tspan></text>
<line x1="161.00" y1="352.50" x2="202.30" y2="352.50" stroke="#161616" stroke-width="1.05"/>
<line x1="169.20" y1="352.50" x2="169.20" y2="354.80" stroke="#161616" stroke-width="0.8"/>
<line x1="181.20" y1="352.50" x2="181.20" y2="354.80" stroke="#161616" stroke-width="0.8"/>
<line x1="192.70" y1="352.50" x2="192.70" y2="354.80" stroke="#161616" stroke-width="0.8"/>
<circle cx="169.20" cy="317.30" r="0.95" fill="#eda466"/>
<circle cx="169.20" cy="322.30" r="0.95" fill="#eda466"/>
<circle cx="169.20" cy="326.90" r="0.95" fill="#eda466"/>
<line x1="165.80" y1="319.80" x2="173.50" y2="319.80" stroke="#5a4025" stroke-width="1.0"/>
<circle cx="179.50" cy="300.00" r="0.95" fill="#eda466"/>
<circle cx="181.20" cy="299.50" r="0.95" fill="#eda466"/>
<circle cx="183.00" cy="300.50" r="0.95" fill="#eda466"/>
<circle cx="181.20" cy="302.50" r="0.95" fill="#eda466"/>
<circle cx="179.50" cy="302.30" r="0.95" fill="#eda466"/>
<circle cx="183.00" cy="302.60" r="0.95" fill="#eda466"/>
<line x1="177.70" y1="301.50" x2="185.40" y2="301.50" stroke="#5a4025" stroke-width="1.0"/>
<circle cx="191.00" cy="344.80" r="0.95" fill="#eda466"/>
<circle cx="193.00" cy="345.00" r="0.95" fill="#eda466"/>
<circle cx="194.50" cy="344.80" r="0.95" fill="#eda466"/>
<circle cx="192.70" cy="347.50" r="0.95" fill="#eda466"/>
<line x1="189.80" y1="345.40" x2="197.50" y2="345.40" stroke="#5a4025" stroke-width="1.0"/>
<polyline points="167.70,303.50 167.70,291.90 179.20,291.90 179.20,298.70" fill="none" stroke="#3c3c3c" stroke-width="0.95"/>
<text x="173.50" y="289.50" font-size="6.8" text-anchor="middle" dominant-baseline="central" stroke="#333">**</text>
<polyline points="182.10,298.70 182.10,291.90 193.70,291.90 193.70,303.50" fill="none" stroke="#3c3c3c" stroke-width="0.95"/>
<text x="187.90" y="289.80" font-size="6.8" text-anchor="middle" dominant-baseline="central" stroke="#333">*</text>
<polyline points="167.70,282.30 167.70,278.80 193.70,278.80 193.70,282.30" fill="none" stroke="#3c3c3c" stroke-width="0.95"/>
<text x="181.20" y="276.80" font-size="6.8" text-anchor="middle" dominant-baseline="central" stroke="#333">*</text>
<text x="118.50" y="323.70" font-size="8.2" text-anchor="middle" dominant-baseline="central" textLength="62.50" lengthAdjust="spacingAndGlyphs" transform="rotate(-90 118.50 323.70)" stroke="#333">Absolute abundance</text>
<text x="129.30" y="323.40" font-size="8.2" text-anchor="middle" dominant-baseline="central" textLength="31.00" lengthAdjust="spacingAndGlyphs" transform="rotate(-90 129.30 323.40)" stroke="#333">of bacteria</text>
<text x="139.80" y="323.70" font-size="8.2" text-anchor="middle" dominant-baseline="central" textLength="57.50" lengthAdjust="spacingAndGlyphs" transform="rotate(-90 139.80 323.70)" stroke="#333">(copies/ 1 ligature)</text>
<text x="169.80" y="359.20" font-size="7.1" text-anchor="end" dominant-baseline="central" textLength="40.92" lengthAdjust="spacingAndGlyphs" transform="rotate(-31.5 169.80 359.20)" stroke="#333">day21 control</text>
<text x="181.70" y="360.00" font-size="7.1" text-anchor="end" dominant-baseline="central" textLength="42.82" lengthAdjust="spacingAndGlyphs" transform="rotate(-31.5 181.70 360.00)" stroke="#333">day21 ligature</text>
<text x="193.40" y="359.80" font-size="7.1" text-anchor="end" dominant-baseline="central" textLength="69.33" lengthAdjust="spacingAndGlyphs" transform="rotate(-31.5 193.40 359.80)" stroke="#333">day21 ligature-removal</text>
<text x="217.60" y="272.80" font-size="12.3" text-anchor="start" dominant-baseline="central" font-weight="bold" fill="#111" textLength="3.42" lengthAdjust="spacingAndGlyphs" style="stroke-width:0.45px" stroke="#111">I</text>
<line x1="251.20" y1="281.70" x2="251.20" y2="351.80" stroke="#161616" stroke-width="1.05"/>
<line x1="249.00" y1="283.00" x2="251.20" y2="283.00" stroke="#161616" stroke-width="0.8"/>
<text x="245.20" y="283.00" font-size="6.9" text-anchor="end" dominant-baseline="central" fill="#555" textLength="10.94" lengthAdjust="spacingAndGlyphs" stroke="#555">150</text>
<line x1="249.00" y1="305.93" x2="251.20" y2="305.93" stroke="#161616" stroke-width="0.8"/>
<text x="245.20" y="305.93" font-size="6.9" text-anchor="end" dominant-baseline="central" fill="#555" textLength="10.94" lengthAdjust="spacingAndGlyphs" stroke="#555">100</text>
<line x1="249.00" y1="328.87" x2="251.20" y2="328.87" stroke="#161616" stroke-width="0.8"/>
<text x="245.20" y="328.87" font-size="6.9" text-anchor="end" dominant-baseline="central" fill="#555" textLength="7.29" lengthAdjust="spacingAndGlyphs" stroke="#555">50</text>
<line x1="249.00" y1="351.80" x2="251.20" y2="351.80" stroke="#161616" stroke-width="0.8"/>
<text x="245.20" y="351.80" font-size="6.9" text-anchor="end" dominant-baseline="central" fill="#555" textLength="3.65" lengthAdjust="spacingAndGlyphs" stroke="#555">0</text>
<text x="226.60" y="316.30" font-size="8.2" text-anchor="middle" dominant-baseline="central" textLength="37.50" lengthAdjust="spacingAndGlyphs" transform="rotate(-90 226.60 316.30)" stroke="#333">CEJ-ABC (%)</text>
<line x1="251.00" y1="351.80" x2="352.50" y2="351.80" stroke="#161616" stroke-width="1.05"/>
<rect x="254.90" y="337.12" width="6.10" height="14.68" fill="#1b4f8f"/>
<line x1="257.95" y1="351.80" x2="257.95" y2="354.00" stroke="#161616" stroke-width="0.8"/>
<line x1="257.95" y1="337.12" x2="257.95" y2="334.37" stroke="#333" stroke-width="0.7"/>
<circle cx="256.35" cy="334.37" r="1.3" fill="#1a1a1a"/>
<circle cx="257.42" cy="335.29" r="1.3" fill="#1a1a1a"/>
<circle cx="258.49" cy="338.96" r="1.3" fill="#1a1a1a"/>
<circle cx="259.56" cy="338.04" r="1.3" fill="#1a1a1a"/>
<rect x="264.50" y="340.79" width="6.10" height="11.01" fill="#f39200"/>
<line x1="267.55" y1="351.80" x2="267.55" y2="354.00" stroke="#161616" stroke-width="0.8"/>
<line x1="267.55" y1="340.79" x2="267.55" y2="338.50" stroke="#333" stroke-width="0.7"/>
<circle cx="265.95" cy="338.96" r="1.3" fill="#1a1a1a"/>
<circle cx="267.02" cy="340.33" r="1.3" fill="#1a1a1a"/>
<circle cx="268.09" cy="339.87" r="1.3" fill="#1a1a1a"/>
<circle cx="269.16" cy="338.50" r="1.3" fill="#1a1a1a"/>
<rect x="274.40" y="305.93" width="6.10" height="45.87" fill="#1b4f8f"/>
<line x1="277.45" y1="351.80" x2="277.45" y2="354.00" stroke="#161616" stroke-width="0.8"/>
<circle cx="275.85" cy="305.93" r="1.3" fill="#1a1a1a"/>
<circle cx="276.92" cy="305.93" r="1.3" fill="#1a1a1a"/>
<circle cx="277.99" cy="305.93" r="1.3" fill="#1a1a1a"/>
<circle cx="279.06" cy="305.93" r="1.3" fill="#1a1a1a"/>
<rect x="284.30" y="305.93" width="6.10" height="45.87" fill="#f39200"/>
<line x1="287.35" y1="351.80" x2="287.35" y2="354.00" stroke="#161616" stroke-width="0.8"/>
<circle cx="285.75" cy="305.93" r="1.3" fill="#1a1a1a"/>
<circle cx="286.82" cy="305.93" r="1.3" fill="#1a1a1a"/>
<circle cx="287.89" cy="305.93" r="1.3" fill="#1a1a1a"/>
<circle cx="288.96" cy="305.93" r="1.3" fill="#1a1a1a"/>
<rect x="294.60" y="303.64" width="6.10" height="48.16" fill="#1b4f8f"/>
<line x1="297.65" y1="351.80" x2="297.65" y2="354.00" stroke="#161616" stroke-width="0.8"/>
<line x1="297.65" y1="303.64" x2="297.65" y2="295.38" stroke="#333" stroke-width="0.7"/>
<circle cx="296.05" cy="295.38" r="1.3" fill="#1a1a1a"/>
<circle cx="297.12" cy="304.56" r="1.3" fill="#1a1a1a"/>
<circle cx="298.19" cy="305.47" r="1.3" fill="#1a1a1a"/>
<circle cx="299.26" cy="303.18" r="1.3" fill="#1a1a1a"/>
<rect x="304.40" y="308.91" width="6.10" height="42.89" fill="#f39200"/>
<line x1="307.45" y1="351.80" x2="307.45" y2="354.00" stroke="#161616" stroke-width="0.8"/>
<circle cx="305.85" cy="307.77" r="1.3" fill="#1a1a1a"/>
<circle cx="306.92" cy="309.60" r="1.3" fill="#1a1a1a"/>
<circle cx="307.99" cy="310.52" r="1.3" fill="#1a1a1a"/>
<circle cx="309.06" cy="309.14" r="1.3" fill="#1a1a1a"/>
<rect x="314.60" y="308.41" width="6.10" height="43.39" fill="#1b4f8f"/>
<line x1="317.65" y1="351.80" x2="317.65" y2="354.00" stroke="#161616" stroke-width="0.8"/>
<line x1="317.65" y1="308.41" x2="317.65" y2="301.35" stroke="#333" stroke-width="0.7"/>
<circle cx="316.05" cy="301.35" r="1.3" fill="#1a1a1a"/>
<circle cx="317.12" cy="307.31" r="1.3" fill="#1a1a1a"/>
<circle cx="318.19" cy="309.14" r="1.3" fill="#1a1a1a"/>
<circle cx="319.26" cy="308.23" r="1.3" fill="#1a1a1a"/>
<rect x="324.50" y="318.04" width="6.10" height="33.76" fill="#f39200"/>
<line x1="327.55" y1="351.80" x2="327.55" y2="354.00" stroke="#161616" stroke-width="0.8"/>
<line x1="327.55" y1="318.04" x2="327.55" y2="316.02" stroke="#333" stroke-width="0.7"/>
<circle cx="325.95" cy="316.02" r="1.3" fill="#1a1a1a"/>
<circle cx="327.02" cy="318.78" r="1.3" fill="#1a1a1a"/>
<circle cx="328.09" cy="319.69" r="1.3" fill="#1a1a1a"/>
<circle cx="329.16" cy="317.40" r="1.3" fill="#1a1a1a"/>
<rect x="334.60" y="308.41" width="6.10" height="43.39" fill="#1b4f8f"/>
<line x1="337.65" y1="351.80" x2="337.65" y2="354.00" stroke="#161616" stroke-width="0.8"/>
<line x1="337.65" y1="308.41" x2="337.65" y2="302.26" stroke="#333" stroke-width="0.7"/>
<circle cx="336.05" cy="302.26" r="1.3" fill="#1a1a1a"/>
<circle cx="337.12" cy="305.47" r="1.3" fill="#1a1a1a"/>
<circle cx="338.19" cy="309.14" r="1.3" fill="#1a1a1a"/>
<circle cx="339.26" cy="307.77" r="1.3" fill="#1a1a1a"/>
<rect x="344.50" y="321.99" width="6.10" height="29.81" fill="#f39200"/>
<line x1="347.55" y1="351.80" x2="347.55" y2="354.00" stroke="#161616" stroke-width="0.8"/>
<line x1="347.55" y1="321.99" x2="347.55" y2="319.69" stroke="#333" stroke-width="0.7"/>
<circle cx="345.95" cy="319.69" r="1.3" fill="#1a1a1a"/>
<circle cx="347.02" cy="321.53" r="1.3" fill="#1a1a1a"/>
<circle cx="348.09" cy="322.90" r="1.3" fill="#1a1a1a"/>
<circle cx="349.16" cy="320.61" r="1.3" fill="#1a1a1a"/>
<polyline points="297.70,289.50 297.70,285.60 307.60,285.60 307.60,300.60" fill="none" stroke="#3c3c3c" stroke-width="0.95"/>
<text x="302.4" y="281.3" font-size="6.6" text-anchor="middle" dominant-baseline="central" stroke="#333"><tspan font-style="italic">P</tspan> = .11</text>
<polyline points="316.40,293.90 316.40,290.20 327.00,290.20 327.00,314.10" fill="none" stroke="#3c3c3c" stroke-width="0.95"/>
<text x="321.60" y="288.60" font-size="6.8" text-anchor="middle" dominant-baseline="central" stroke="#333">*</text>
<polyline points="336.60,295.50 336.60,290.20 347.00,290.20 347.00,316.70" fill="none" stroke="#3c3c3c" stroke-width="0.95"/>
<text x="341.60" y="288.60" font-size="6.8" text-anchor="middle" dominant-baseline="central" stroke="#333">*</text>
<text x="260.15" y="356.50" font-size="6.4" text-anchor="end" dominant-baseline="central" transform="rotate(-45 260.15 356.50)" stroke="#333">Vehicle</text>
<text x="269.75" y="356.50" font-size="6.4" text-anchor="end" dominant-baseline="central" transform="rotate(-45 269.75 356.50)" stroke="#333">Abx+</text>
<text x="279.65" y="356.50" font-size="6.4" text-anchor="end" dominant-baseline="central" transform="rotate(-45 279.65 356.50)" stroke="#333">Vehicle</text>
<text x="289.55" y="356.50" font-size="6.4" text-anchor="end" dominant-baseline="central" transform="rotate(-45 289.55 356.50)" stroke="#333">Abx+</text>
<text x="299.85" y="356.50" font-size="6.4" text-anchor="end" dominant-baseline="central" transform="rotate(-45 299.85 356.50)" stroke="#333">Vehicle</text>
<text x="309.65" y="356.50" font-size="6.4" text-anchor="end" dominant-baseline="central" transform="rotate(-45 309.65 356.50)" stroke="#333">Abx+</text>
<text x="319.85" y="356.50" font-size="6.4" text-anchor="end" dominant-baseline="central" transform="rotate(-45 319.85 356.50)" stroke="#333">Vehicle</text>
<text x="329.75" y="356.50" font-size="6.4" text-anchor="end" dominant-baseline="central" transform="rotate(-45 329.75 356.50)" stroke="#333">Abx+</text>
<text x="339.85" y="356.50" font-size="6.4" text-anchor="end" dominant-baseline="central" transform="rotate(-45 339.85 356.50)" stroke="#333">Vehicle</text>
<text x="349.75" y="356.50" font-size="6.4" text-anchor="end" dominant-baseline="central" transform="rotate(-45 349.75 356.50)" stroke="#333">Abx+</text>
<polyline points="242.40,379.30 242.40,382.20 258.30,382.20 258.30,379.30" fill="none" stroke="#444" stroke-width="0.8"/>
<text x="249.60" y="389.30" font-size="7.3" text-anchor="middle" dominant-baseline="central" textLength="20.53" lengthAdjust="spacingAndGlyphs" stroke="#333">day-14</text>
<polyline points="262.60,379.30 262.60,382.20 278.50,382.20 278.50,379.30" fill="none" stroke="#444" stroke-width="0.8"/>
<text x="270.70" y="389.30" font-size="7.3" text-anchor="middle" dominant-baseline="central" textLength="14.56" lengthAdjust="spacingAndGlyphs" stroke="#333">day0</text>
<polyline points="282.00,379.30 282.00,382.20 297.80,382.20 297.80,379.30" fill="none" stroke="#444" stroke-width="0.8"/>
<text x="289.60" y="389.30" font-size="7.3" text-anchor="middle" dominant-baseline="central" textLength="14.56" lengthAdjust="spacingAndGlyphs" stroke="#333">day7</text>
<polyline points="301.50,379.30 301.50,382.20 317.40,382.20 317.40,379.30" fill="none" stroke="#444" stroke-width="0.8"/>
<text x="309.60" y="389.30" font-size="7.3" text-anchor="middle" dominant-baseline="central" textLength="18.30" lengthAdjust="spacingAndGlyphs" stroke="#333">day14</text>
<polyline points="321.00,379.30 321.00,382.20 337.60,382.20 337.60,379.30" fill="none" stroke="#444" stroke-width="0.8"/>
<text x="329.60" y="389.30" font-size="7.3" text-anchor="middle" dominant-baseline="central" textLength="18.30" lengthAdjust="spacingAndGlyphs" stroke="#333">day21</text>
<text x="369.70" y="272.70" font-size="12.3" text-anchor="start" dominant-baseline="central" font-weight="bold" fill="#111" textLength="6.84" lengthAdjust="spacingAndGlyphs" style="stroke-width:0.45px" stroke="#111">J</text>
<line x1="401.00" y1="283.00" x2="401.00" y2="352.00" stroke="#161616" stroke-width="1.05"/>
<line x1="398.80" y1="284.00" x2="401.00" y2="284.00" stroke="#161616" stroke-width="0.8"/>
<text x="398.30" y="284.00" font-size="6.9" text-anchor="end" dominant-baseline="central" textLength="7.29" lengthAdjust="spacingAndGlyphs" stroke="#333">10</text>
<line x1="398.80" y1="297.60" x2="401.00" y2="297.60" stroke="#161616" stroke-width="0.8"/>
<text x="398.30" y="297.60" font-size="6.9" text-anchor="end" dominant-baseline="central" textLength="3.65" lengthAdjust="spacingAndGlyphs" stroke="#333">8</text>
<line x1="398.80" y1="311.20" x2="401.00" y2="311.20" stroke="#161616" stroke-width="0.8"/>
<text x="398.30" y="311.20" font-size="6.9" text-anchor="end" dominant-baseline="central" textLength="3.65" lengthAdjust="spacingAndGlyphs" stroke="#333">6</text>
<line x1="398.80" y1="324.80" x2="401.00" y2="324.80" stroke="#161616" stroke-width="0.8"/>
<text x="398.30" y="324.80" font-size="6.9" text-anchor="end" dominant-baseline="central" textLength="3.65" lengthAdjust="spacingAndGlyphs" stroke="#333">4</text>
<line x1="398.80" y1="338.40" x2="401.00" y2="338.40" stroke="#161616" stroke-width="0.8"/>
<text x="398.30" y="338.40" font-size="6.9" text-anchor="end" dominant-baseline="central" textLength="3.65" lengthAdjust="spacingAndGlyphs" stroke="#333">2</text>
<line x1="398.80" y1="352.00" x2="401.00" y2="352.00" stroke="#161616" stroke-width="0.8"/>
<text x="398.30" y="352.00" font-size="6.9" text-anchor="end" dominant-baseline="central" textLength="3.65" lengthAdjust="spacingAndGlyphs" stroke="#333">0</text>
<line x1="401.00" y1="352.00" x2="502.00" y2="352.00" stroke="#161616" stroke-width="1.05"/>
<line x1="401.50" y1="352.00" x2="401.50" y2="354.20" stroke="#161616" stroke-width="0.8"/>
<text x="401.50" y="361.50" font-size="7.0" text-anchor="middle" dominant-baseline="central" textLength="3.70" lengthAdjust="spacingAndGlyphs" stroke="#333">0</text>
<line x1="420.70" y1="352.00" x2="420.70" y2="354.20" stroke="#161616" stroke-width="0.8"/>
<text x="420.70" y="361.50" font-size="7.0" text-anchor="middle" dominant-baseline="central" textLength="7.40" lengthAdjust="spacingAndGlyphs" stroke="#333">14</text>
<line x1="445.40" y1="352.00" x2="445.40" y2="354.20" stroke="#161616" stroke-width="0.8"/>
<text x="445.40" y="361.50" font-size="7.0" text-anchor="middle" dominant-baseline="central" textLength="7.40" lengthAdjust="spacingAndGlyphs" stroke="#333">28</text>
<line x1="470.80" y1="352.00" x2="470.80" y2="354.20" stroke="#161616" stroke-width="0.8"/>
<text x="470.80" y="361.50" font-size="7.0" text-anchor="middle" dominant-baseline="central" textLength="7.40" lengthAdjust="spacingAndGlyphs" stroke="#333">42</text>
<line x1="495.70" y1="352.00" x2="495.70" y2="354.20" stroke="#161616" stroke-width="0.8"/>
<text x="495.70" y="361.50" font-size="7.0" text-anchor="middle" dominant-baseline="central" textLength="7.40" lengthAdjust="spacingAndGlyphs" stroke="#333">56</text>
<text x="452.30" y="372.30" font-size="8.2" text-anchor="middle" dominant-baseline="central" textLength="44.50" lengthAdjust="spacingAndGlyphs" stroke="#333">Days after HCT</text>
<text x="380.60" y="319.00" font-size="8.3" text-anchor="middle" dominant-baseline="central" textLength="57.00" lengthAdjust="spacingAndGlyphs" transform="rotate(-90 380.60 319.00)" stroke="#333">cGVHD skin score</text>
<line x1="457.80" y1="328.88" x2="457.80" y2="323.44" stroke="#777" stroke-width="0.7"/>
<line x1="456.60" y1="323.44" x2="459.00" y2="323.44" stroke="#777" stroke-width="0.7"/>
<line x1="470.80" y1="314.60" x2="470.80" y2="309.16" stroke="#777" stroke-width="0.7"/>
<line x1="469.60" y1="309.16" x2="472.00" y2="309.16" stroke="#777" stroke-width="0.7"/>
<line x1="457.80" y1="341.12" x2="457.80" y2="334.32" stroke="#4a9a55" stroke-width="0.7"/>
<line x1="456.60" y1="334.32" x2="459.00" y2="334.32" stroke="#4a9a55" stroke-width="0.7"/>
<line x1="470.80" y1="324.12" x2="470.80" y2="315.96" stroke="#4a9a55" stroke-width="0.7"/>
<line x1="469.60" y1="315.96" x2="472.00" y2="315.96" stroke="#4a9a55" stroke-width="0.7"/>
<line x1="483.00" y1="322.08" x2="483.00" y2="304.40" stroke="#4a9a55" stroke-width="0.7"/>
<line x1="481.80" y1="304.40" x2="484.20" y2="304.40" stroke="#4a9a55" stroke-width="0.7"/>
<polyline points="407.70,352.00 420.60,352.00 433.20,349.96 445.50,345.88 457.80,326.16 470.80,311.88 483.00,297.60 495.40,297.60" fill="none" stroke="#f5ae2e" stroke-width="1.3"/>
<polyline points="407.70,352.00 420.60,352.00 433.20,350.64 445.50,347.92 457.80,337.72 470.80,320.04 483.00,313.24 495.40,318.00" fill="none" stroke="#3a9a48" stroke-width="1.2" stroke-dasharray="2.6,1.8"/>
<circle cx="407.70" cy="352.00" r="1.2" fill="#f5ae2e"/>
<circle cx="420.60" cy="352.00" r="1.2" fill="#f5ae2e"/>
<circle cx="433.20" cy="349.96" r="1.2" fill="#f5ae2e"/>
<circle cx="445.50" cy="345.88" r="1.2" fill="#f5ae2e"/>
<circle cx="457.80" cy="326.16" r="1.2" fill="#f5ae2e"/>
<circle cx="470.80" cy="311.88" r="1.2" fill="#f5ae2e"/>
<circle cx="483.00" cy="297.60" r="1.2" fill="#f5ae2e"/>
<circle cx="495.40" cy="297.60" r="1.2" fill="#f5ae2e"/>
<polygon points="406.40,353.04 409.00,353.04 407.70,350.70" fill="#3a9a48"/>
<polygon points="419.30,353.04 421.90,353.04 420.60,350.70" fill="#3a9a48"/>
<polygon points="431.90,351.68 434.50,351.68 433.20,349.34" fill="#3a9a48"/>
<polygon points="444.20,348.96 446.80,348.96 445.50,346.62" fill="#3a9a48"/>
<polygon points="456.50,338.76 459.10,338.76 457.80,336.42" fill="#3a9a48"/>
<polygon points="469.50,321.08 472.10,321.08 470.80,318.74" fill="#3a9a48"/>
<polygon points="481.70,314.28 484.30,314.28 483.00,311.94" fill="#3a9a48"/>
<polygon points="494.10,319.04 496.70,319.04 495.40,316.70" fill="#3a9a48"/>
<line x1="404.60" y1="288.60" x2="413.80" y2="288.60" stroke="#f5ae2e" stroke-width="1.3"/>
<circle cx="409.20" cy="288.60" r="1.2" fill="#f5ae2e"/>
<text x="415.40" y="288.60" font-size="6.9" text-anchor="start" dominant-baseline="central" stroke="#333">Allo ligature Abx(–)</text>
<line x1="404.60" y1="298.50" x2="413.80" y2="298.50" stroke="#3a9a48" stroke-width="1.3" stroke-dasharray="2,1.3"/>
<polygon points="407.90,299.54 410.50,299.54 409.20,297.20" fill="#3a9a48"/>
<text x="415.40" y="298.50" font-size="6.9" text-anchor="start" dominant-baseline="central" stroke="#333">Allo ligature Abx(+)</text>
<text x="472.3" y="333.8" font-size="6.8" dominant-baseline="central" stroke="#333">**<tspan font-style="italic">P</tspan> &lt; .01</text>
<text x="10.80" y="404.70" font-size="12.3" text-anchor="start" dominant-baseline="central" font-weight="bold" fill="#111" textLength="8.88" lengthAdjust="spacingAndGlyphs" style="stroke-width:0.45px" stroke="#111">K</text>
<line x1="43.80" y1="424.40" x2="43.80" y2="493.60" stroke="#161616" stroke-width="1.05"/>
<line x1="41.60" y1="432.60" x2="43.80" y2="432.60" stroke="#161616" stroke-width="0.8"/>
<text x="40.20" y="432.60" font-size="7.0" text-anchor="end" dominant-baseline="central" textLength="11.09" lengthAdjust="spacingAndGlyphs" stroke="#333">100</text>
<line x1="41.60" y1="463.10" x2="43.80" y2="463.10" stroke="#161616" stroke-width="0.8"/>
<text x="40.20" y="463.10" font-size="7.0" text-anchor="end" dominant-baseline="central" textLength="7.40" lengthAdjust="spacingAndGlyphs" stroke="#333">50</text>
<line x1="41.60" y1="493.60" x2="43.80" y2="493.60" stroke="#161616" stroke-width="0.8"/>
<text x="40.20" y="493.60" font-size="7.0" text-anchor="end" dominant-baseline="central" textLength="3.70" lengthAdjust="spacingAndGlyphs" stroke="#333">0</text>
<line x1="43.80" y1="493.60" x2="145.60" y2="493.60" stroke="#161616" stroke-width="1.05"/>
<line x1="43.80" y1="493.60" x2="43.80" y2="496.30" stroke="#161616" stroke-width="0.75"/>
<line x1="47.93" y1="493.60" x2="47.93" y2="495.40" stroke="#161616" stroke-width="0.75"/>
<line x1="52.06" y1="493.60" x2="52.06" y2="495.40" stroke="#161616" stroke-width="0.75"/>
<line x1="56.19" y1="493.60" x2="56.19" y2="495.40" stroke="#161616" stroke-width="0.75"/>
<line x1="60.31" y1="493.60" x2="60.31" y2="495.40" stroke="#161616" stroke-width="0.75"/>
<line x1="64.44" y1="493.60" x2="64.44" y2="495.40" stroke="#161616" stroke-width="0.75"/>
<line x1="68.57" y1="493.60" x2="68.57" y2="495.40" stroke="#161616" stroke-width="0.75"/>
<line x1="72.70" y1="493.60" x2="72.70" y2="496.30" stroke="#161616" stroke-width="0.75"/>
<line x1="76.83" y1="493.60" x2="76.83" y2="495.40" stroke="#161616" stroke-width="0.75"/>
<line x1="80.96" y1="493.60" x2="80.96" y2="495.40" stroke="#161616" stroke-width="0.75"/>
<line x1="85.09" y1="493.60" x2="85.09" y2="495.40" stroke="#161616" stroke-width="0.75"/>
<line x1="89.21" y1="493.60" x2="89.21" y2="495.40" stroke="#161616" stroke-width="0.75"/>
<line x1="93.34" y1="493.60" x2="93.34" y2="495.40" stroke="#161616" stroke-width="0.75"/>
<line x1="97.47" y1="493.60" x2="97.47" y2="495.40" stroke="#161616" stroke-width="0.75"/>
<line x1="101.60" y1="493.60" x2="101.60" y2="496.30" stroke="#161616" stroke-width="0.75"/>
<line x1="105.73" y1="493.60" x2="105.73" y2="495.40" stroke="#161616" stroke-width="0.75"/>
<line x1="109.86" y1="493.60" x2="109.86" y2="495.40" stroke="#161616" stroke-width="0.75"/>
<line x1="113.99" y1="493.60" x2="113.99" y2="495.40" stroke="#161616" stroke-width="0.75"/>
<line x1="118.11" y1="493.60" x2="118.11" y2="495.40" stroke="#161616" stroke-width="0.75"/>
<line x1="122.24" y1="493.60" x2="122.24" y2="495.40" stroke="#161616" stroke-width="0.75"/>
<line x1="126.37" y1="493.60" x2="126.37" y2="495.40" stroke="#161616" stroke-width="0.75"/>
<line x1="130.50" y1="493.60" x2="130.50" y2="496.30" stroke="#161616" stroke-width="0.75"/>
<line x1="134.63" y1="493.60" x2="134.63" y2="495.40" stroke="#161616" stroke-width="0.75"/>
<line x1="138.76" y1="493.60" x2="138.76" y2="495.40" stroke="#161616" stroke-width="0.75"/>
<line x1="142.89" y1="493.60" x2="142.89" y2="495.40" stroke="#161616" stroke-width="0.75"/>
<text x="43.80" y="503.60" font-size="7.0" text-anchor="middle" dominant-baseline="central" textLength="3.70" lengthAdjust="spacingAndGlyphs" stroke="#333">0</text>
<text x="72.70" y="503.60" font-size="7.0" text-anchor="middle" dominant-baseline="central" textLength="7.40" lengthAdjust="spacingAndGlyphs" stroke="#333">20</text>
<text x="101.60" y="503.60" font-size="7.0" text-anchor="middle" dominant-baseline="central" textLength="7.40" lengthAdjust="spacingAndGlyphs" stroke="#333">40</text>
<text x="130.50" y="503.60" font-size="7.0" text-anchor="middle" dominant-baseline="central" textLength="7.40" lengthAdjust="spacingAndGlyphs" stroke="#333">60</text>
<text x="94.40" y="515.40" font-size="8.2" text-anchor="middle" dominant-baseline="central" textLength="44.70" lengthAdjust="spacingAndGlyphs" stroke="#333">Days after HCT</text>
<text x="19.50" y="458.50" font-size="8.3" text-anchor="middle" dominant-baseline="central" textLength="66.00" lengthAdjust="spacingAndGlyphs" transform="rotate(-90 19.50 458.50)" stroke="#333">Probability of survival</text>
<polyline points="43.80,432.60 76.60,432.60 76.60,444.80 77.50,444.80 77.50,455.17 79.20,455.17 79.20,469.81 80.30,469.81 80.30,480.79 122.40,480.79 122.40,493.60" fill="none" stroke="#f2b92c" stroke-width="1.4"/>
<polyline points="77.00,432.60 92.90,432.60 92.90,444.80 104.70,444.80 104.70,457.00 145.60,457.00" fill="none" stroke="#2a6e6a" stroke-width="1.3" stroke-dasharray="3.2,2"/>
<text x="118" y="444.8" font-size="6.8" dominant-baseline="central" stroke="#333">*<tspan font-style="italic">P</tspan> = .02</text>
<line x1="62.00" y1="413.80" x2="69.00" y2="413.80" stroke="#f2b92c" stroke-width="1.3"/>
<text x="72.70" y="413.80" font-size="7" text-anchor="start" dominant-baseline="central" stroke="#333">Allo-ligature Abx–</text>
<line x1="62.00" y1="423.30" x2="69.00" y2="423.30" stroke="#2a6e6a" stroke-width="1.3" stroke-dasharray="1.3,1.3"/>
<text x="72.70" y="423.30" font-size="7" text-anchor="start" dominant-baseline="central" stroke="#333">Allo-ligature Abx+</text>
<text x="152.90" y="404.70" font-size="12.3" text-anchor="start" dominant-baseline="central" font-weight="bold" fill="#111" textLength="7.51" lengthAdjust="spacingAndGlyphs" style="stroke-width:0.45px" stroke="#111">L</text>
<text x="238.50" y="415.50" font-size="9.0" text-anchor="middle" dominant-baseline="central" fill="#222" textLength="61.20" lengthAdjust="spacingAndGlyphs" stroke="#222">Oral microbiota</text>
<text x="211.70" y="427.30" font-size="6.8" text-anchor="middle" dominant-baseline="central" fill="#444" textLength="21.00" lengthAdjust="spacingAndGlyphs" stroke="#444">control</text>
<text x="260.90" y="427.30" font-size="6.8" text-anchor="middle" dominant-baseline="central" fill="#444" textLength="22.50" lengthAdjust="spacingAndGlyphs" stroke="#444">ligature</text>
<polyline points="189.00,436.20 189.00,433.50 233.70,433.50 233.70,436.20" fill="none" stroke="#555" stroke-width="0.8"/>
<polyline points="235.90,436.20 235.90,433.50 286.60,433.50 286.60,436.20" fill="none" stroke="#555" stroke-width="0.8"/>
<line x1="185.70" y1="436.50" x2="185.70" y2="522.70" stroke="#161616" stroke-width="1.05"/>
<line x1="183.50" y1="437.60" x2="185.70" y2="437.60" stroke="#161616" stroke-width="0.8"/>
<text x="182.00" y="437.60" font-size="7.0" text-anchor="end" dominant-baseline="central" textLength="10.86" lengthAdjust="spacingAndGlyphs" stroke="#333">100</text>
<line x1="183.50" y1="454.62" x2="185.70" y2="454.62" stroke="#161616" stroke-width="0.8"/>
<text x="182.00" y="454.62" font-size="7.0" text-anchor="end" dominant-baseline="central" textLength="7.24" lengthAdjust="spacingAndGlyphs" stroke="#333">80</text>
<line x1="183.50" y1="471.64" x2="185.70" y2="471.64" stroke="#161616" stroke-width="0.8"/>
<text x="182.00" y="471.64" font-size="7.0" text-anchor="end" dominant-baseline="central" textLength="7.24" lengthAdjust="spacingAndGlyphs" stroke="#333">60</text>
<line x1="183.50" y1="488.66" x2="185.70" y2="488.66" stroke="#161616" stroke-width="0.8"/>
<text x="182.00" y="488.66" font-size="7.0" text-anchor="end" dominant-baseline="central" textLength="7.24" lengthAdjust="spacingAndGlyphs" stroke="#333">40</text>
<line x1="183.50" y1="505.68" x2="185.70" y2="505.68" stroke="#161616" stroke-width="0.8"/>
<text x="182.00" y="505.68" font-size="7.0" text-anchor="end" dominant-baseline="central" textLength="7.24" lengthAdjust="spacingAndGlyphs" stroke="#333">20</text>
<line x1="183.50" y1="522.70" x2="185.70" y2="522.70" stroke="#161616" stroke-width="0.8"/>
<text x="182.00" y="522.70" font-size="7.0" text-anchor="end" dominant-baseline="central" textLength="3.62" lengthAdjust="spacingAndGlyphs" stroke="#333">0</text>
<text x="161.00" y="479.50" font-size="8.0" text-anchor="middle" dominant-baseline="central" textLength="73.50" lengthAdjust="spacingAndGlyphs" transform="rotate(-90 161.00 479.50)" stroke="#333">Relative abundance (%)</text>
<rect x="189.00" y="521.34" width="5.00" height="1.41" fill="#f7bf97"/>
<rect x="189.00" y="518.62" width="5.00" height="2.77" fill="#ef6b0d"/>
<rect x="189.00" y="517.93" width="5.00" height="0.73" fill="#f7bf97"/>
<rect x="189.00" y="515.47" width="5.00" height="2.52" fill="#1f79be"/>
<rect x="189.00" y="514.45" width="5.00" height="1.07" fill="#fdf1ae"/>
<rect x="189.00" y="513.34" width="5.00" height="1.16" fill="#ef6b0d"/>
<rect x="189.00" y="511.72" width="5.00" height="1.67" fill="#f7bf97"/>
<rect x="189.00" y="507.64" width="5.00" height="4.13" fill="#6dc08e"/>
<rect x="189.00" y="502.79" width="5.00" height="4.90" fill="#777777"/>
<rect x="189.00" y="467.81" width="5.00" height="35.03" fill="#ef6b0d"/>
<rect x="189.00" y="437.60" width="5.00" height="30.26" fill="#e1197a"/>
<rect x="194.87" y="519.30" width="5.00" height="3.45" fill="#ef6b0d"/>
<rect x="194.87" y="515.04" width="5.00" height="4.30" fill="#1f79be"/>
<rect x="194.87" y="513.68" width="5.00" height="1.41" fill="#fdf1ae"/>
<rect x="194.87" y="512.32" width="5.00" height="1.41" fill="#d8bde0"/>
<rect x="194.87" y="510.96" width="5.00" height="1.41" fill="#777777"/>
<rect x="194.87" y="505.42" width="5.00" height="5.58" fill="#6dc08e"/>
<rect x="194.87" y="501.34" width="5.00" height="4.13" fill="#777777"/>
<rect x="194.87" y="473.94" width="5.00" height="27.45" fill="#ef6b0d"/>
<rect x="194.87" y="437.60" width="5.00" height="36.39" fill="#e1197a"/>
<rect x="200.74" y="517.93" width="5.00" height="4.82" fill="#ef6b0d"/>
<rect x="200.74" y="515.38" width="5.00" height="2.60" fill="#1f79be"/>
<rect x="200.74" y="511.72" width="5.00" height="3.71" fill="#f7bf97"/>
<rect x="200.74" y="509.08" width="5.00" height="2.69" fill="#777777"/>
<rect x="200.74" y="497.34" width="5.00" height="11.79" fill="#6dc08e"/>
<rect x="200.74" y="492.49" width="5.00" height="4.90" fill="#777777"/>
<rect x="200.74" y="466.53" width="5.00" height="26.01" fill="#ef6b0d"/>
<rect x="200.74" y="437.60" width="5.00" height="28.98" fill="#e1197a"/>
<rect x="206.61" y="517.17" width="5.00" height="5.58" fill="#ef6b0d"/>
<rect x="206.61" y="514.45" width="5.00" height="2.77" fill="#1f79be"/>
<rect x="206.61" y="512.49" width="5.00" height="2.01" fill="#fdf1ae"/>
<rect x="206.61" y="509.94" width="5.00" height="2.60" fill="#777777"/>
<rect x="206.61" y="501.43" width="5.00" height="8.56" fill="#f7bf97"/>
<rect x="206.61" y="495.89" width="5.00" height="5.58" fill="#777777"/>
<rect x="206.61" y="469.94" width="5.00" height="26.01" fill="#ef6b0d"/>
<rect x="206.61" y="439.30" width="5.00" height="30.69" fill="#e1197a"/>
<rect x="206.61" y="437.60" width="5.00" height="1.75" fill="#f7bf97"/>
<rect x="212.48" y="519.98" width="5.00" height="2.77" fill="#ef6b0d"/>
<rect x="212.48" y="515.89" width="5.00" height="4.13" fill="#1f79be"/>
<rect x="212.48" y="513.34" width="5.00" height="2.60" fill="#f7bf97"/>
<rect x="212.48" y="509.08" width="5.00" height="4.30" fill="#777777"/>
<rect x="212.48" y="474.62" width="5.00" height="34.52" fill="#ef6b0d"/>
<rect x="212.48" y="443.13" width="5.00" height="31.54" fill="#e1197a"/>
<rect x="212.48" y="437.60" width="5.00" height="5.58" fill="#f7bf97"/>
<rect x="218.35" y="517.68" width="5.00" height="5.07" fill="#6dc08e"/>
<rect x="218.35" y="497.51" width="5.00" height="20.22" fill="#f7bf97"/>
<rect x="218.35" y="486.11" width="5.00" height="11.45" fill="#d8bde0"/>
<rect x="218.35" y="477.26" width="5.00" height="8.90" fill="#777777"/>
<rect x="218.35" y="458.36" width="5.00" height="18.94" fill="#6dc08e"/>
<rect x="218.35" y="451.22" width="5.00" height="7.20" fill="#ef6b0d"/>
<rect x="218.35" y="447.81" width="5.00" height="3.45" fill="#e1197a"/>
<rect x="218.35" y="437.60" width="5.00" height="10.26" fill="#6dc08e"/>
<rect x="224.22" y="515.72" width="5.00" height="7.03" fill="#d8bde0"/>
<rect x="224.22" y="510.96" width="5.00" height="4.82" fill="#777777"/>
<rect x="224.22" y="506.28" width="5.00" height="4.73" fill="#1f79be"/>
<rect x="224.22" y="504.23" width="5.00" height="2.09" fill="#f7bf97"/>
<rect x="224.22" y="474.53" width="5.00" height="29.75" fill="#6dc08e"/>
<rect x="224.22" y="467.13" width="5.00" height="7.45" fill="#777777"/>
<rect x="224.22" y="459.73" width="5.00" height="7.45" fill="#d8bde0"/>
<rect x="224.22" y="437.60" width="5.00" height="22.18" fill="#6dc08e"/>
<rect x="230.09" y="520.40" width="5.00" height="2.35" fill="#777777"/>
<rect x="230.09" y="517.00" width="5.00" height="3.45" fill="#f7bf97"/>
<rect x="230.09" y="506.28" width="5.00" height="10.77" fill="#ef6b0d"/>
<rect x="230.09" y="451.64" width="5.00" height="54.68" fill="#6dc08e"/>
<rect x="230.09" y="442.20" width="5.00" height="9.50" fill="#ef6b0d"/>
<rect x="230.09" y="437.60" width="5.00" height="4.65" fill="#e1197a"/>
<rect x="235.96" y="521.68" width="5.00" height="1.07" fill="#e1197a"/>
<rect x="235.96" y="497.17" width="5.00" height="24.56" fill="#1f79be"/>
<rect x="235.96" y="492.49" width="5.00" height="4.73" fill="#f7bf97"/>
<rect x="235.96" y="437.60" width="5.00" height="54.94" fill="#6dc08e"/>
<rect x="241.83" y="521.68" width="5.00" height="1.07" fill="#fdf1ae"/>
<rect x="241.83" y="520.15" width="5.00" height="1.58" fill="#e1197a"/>
<rect x="241.83" y="509.94" width="5.00" height="10.26" fill="#1f79be"/>
<rect x="241.83" y="500.57" width="5.00" height="9.41" fill="#f7bf97"/>
<rect x="241.83" y="437.60" width="5.00" height="63.02" fill="#6dc08e"/>
<rect x="247.70" y="522.02" width="5.00" height="0.73" fill="#f7bf97"/>
<rect x="247.70" y="520.15" width="5.00" height="1.92" fill="#e1197a"/>
<rect x="247.70" y="497.17" width="5.00" height="23.03" fill="#1f79be"/>
<rect x="247.70" y="492.49" width="5.00" height="4.73" fill="#f7bf97"/>
<rect x="247.70" y="437.60" width="5.00" height="54.94" fill="#6dc08e"/>
<rect x="253.57" y="522.02" width="5.00" height="0.73" fill="#f7bf97"/>
<rect x="253.57" y="520.15" width="5.00" height="1.92" fill="#e1197a"/>
<rect x="253.57" y="505.68" width="5.00" height="14.52" fill="#1f79be"/>
<rect x="253.57" y="437.60" width="5.00" height="68.13" fill="#6dc08e"/>
<rect x="259.44" y="522.02" width="5.00" height="0.73" fill="#f7bf97"/>
<rect x="259.44" y="520.15" width="5.00" height="1.92" fill="#e1197a"/>
<rect x="259.44" y="512.49" width="5.00" height="7.71" fill="#1f79be"/>
<rect x="259.44" y="481.00" width="5.00" height="31.54" fill="#f7bf97"/>
<rect x="259.44" y="437.60" width="5.00" height="43.45" fill="#6dc08e"/>
<rect x="265.31" y="521.85" width="5.00" height="0.90" fill="#e1197a"/>
<rect x="265.31" y="517.59" width="5.00" height="4.30" fill="#1f79be"/>
<rect x="265.31" y="437.60" width="5.00" height="80.04" fill="#6dc08e"/>
<rect x="271.18" y="520.15" width="5.00" height="2.60" fill="#1f79be"/>
<rect x="271.18" y="437.60" width="5.00" height="82.60" fill="#6dc08e"/>
<rect x="277.05" y="521.00" width="5.00" height="1.75" fill="#d8bde0"/>
<rect x="277.05" y="519.30" width="5.00" height="1.75" fill="#1f79be"/>
<rect x="277.05" y="517.59" width="5.00" height="1.75" fill="#777777"/>
<rect x="277.05" y="515.89" width="5.00" height="1.75" fill="#ef6b0d"/>
<rect x="277.05" y="514.19" width="5.00" height="1.75" fill="#1f79be"/>
<rect x="277.05" y="437.60" width="5.00" height="76.64" fill="#6dc08e"/>
<rect x="282.92" y="521.42" width="5.00" height="1.33" fill="#f7bf97"/>
<rect x="282.92" y="512.06" width="5.00" height="9.41" fill="#1f79be"/>
<rect x="282.92" y="510.36" width="5.00" height="1.75" fill="#f7bf97"/>
<rect x="282.92" y="437.60" width="5.00" height="72.81" fill="#6dc08e"/>
<polyline points="189.00,524.40 189.00,526.90 216.40,526.90 216.40,524.40" fill="none" stroke="#555" stroke-width="0.8"/>
<text x="202.40" y="533.50" font-size="6.9" text-anchor="middle" dominant-baseline="central" stroke="#333">Abx–</text>
<polyline points="217.80,524.40 217.80,526.90 233.70,526.90 233.70,524.40" fill="none" stroke="#555" stroke-width="0.8"/>
<text x="225.80" y="533.50" font-size="6.9" text-anchor="middle" dominant-baseline="central" stroke="#333">Abx+</text>
<polyline points="235.90,524.40 235.90,526.90 264.30,526.90 264.30,524.40" fill="none" stroke="#555" stroke-width="0.8"/>
<text x="249.60" y="533.50" font-size="6.9" text-anchor="middle" dominant-baseline="central" stroke="#333">Abx–</text>
<polyline points="266.60,524.40 266.60,526.90 288.00,526.90 288.00,524.40" fill="none" stroke="#555" stroke-width="0.8"/>
<text x="277.00" y="533.50" font-size="6.9" text-anchor="middle" dominant-baseline="central" stroke="#333">Abx+</text>
<rect x="293.80" y="447.90" width="4.20" height="4.20" fill="#f7bf97"/>
<text x="300.50" y="450.00" font-size="7.1" text-anchor="start" dominant-baseline="central" fill="#444" textLength="48.30" lengthAdjust="spacingAndGlyphs" stroke="#444">Lactobacillaceae</text>
<rect x="293.80" y="456.47" width="4.20" height="4.20" fill="#fdf1ae"/>
<text x="300.50" y="458.57" font-size="7.1" text-anchor="start" dominant-baseline="central" fill="#444" textLength="45.50" lengthAdjust="spacingAndGlyphs" stroke="#444">Bacteroidaceae</text>
<rect x="293.80" y="465.04" width="4.20" height="4.20" fill="#6dc08e"/>
<text x="300.50" y="467.14" font-size="7.1" text-anchor="start" dominant-baseline="central" fill="#444" textLength="57.00" lengthAdjust="spacingAndGlyphs" stroke="#444">Enterobacteriaceae</text>
<rect x="293.80" y="473.61" width="4.20" height="4.20" fill="#1f79be"/>
<text x="300.50" y="475.71" font-size="7.1" text-anchor="start" dominant-baseline="central" fill="#444" textLength="50.00" lengthAdjust="spacingAndGlyphs" stroke="#444">Enterococcaceae</text>
<rect x="293.80" y="482.18" width="4.20" height="4.20" fill="#d8bde0"/>
<text x="300.50" y="484.28" font-size="7.1" text-anchor="start" dominant-baseline="central" fill="#444" textLength="49.00" lengthAdjust="spacingAndGlyphs" stroke="#444">Lachnospiraceae</text>
<rect x="293.80" y="490.75" width="4.20" height="4.20" fill="#e1197a"/>
<text x="300.50" y="492.85" font-size="7.1" text-anchor="start" dominant-baseline="central" fill="#444" textLength="61.80" lengthAdjust="spacingAndGlyphs" stroke="#444">Sphingomonadaceae</text>
<rect x="293.80" y="499.32" width="4.20" height="4.20" fill="#ef6b0d"/>
<text x="300.50" y="501.42" font-size="7.1" text-anchor="start" dominant-baseline="central" fill="#444" textLength="59.80" lengthAdjust="spacingAndGlyphs" stroke="#444">Pseudomonadaceae</text>
<rect x="293.80" y="507.89" width="4.20" height="4.20" fill="#777777"/>
<text x="300.50" y="509.99" font-size="7.1" text-anchor="start" dominant-baseline="central" fill="#444" textLength="61.80" lengthAdjust="spacingAndGlyphs" stroke="#444">Verrucomicrobiaceae</text>
<text x="372.00" y="404.60" font-size="12.3" text-anchor="start" dominant-baseline="central" font-weight="bold" fill="#111" textLength="10.25" lengthAdjust="spacingAndGlyphs" style="stroke-width:0.45px" stroke="#111">M</text>
<text x="457.40" y="405.50" font-size="9.3" text-anchor="middle" dominant-baseline="central" fill="#222" stroke="#222">Oral microbiota</text>
<rect x="404.5" y="414.8" width="107.8" height="79.8" fill="none" stroke="#222" stroke-width="0.95"/>
<line x1="426.70" y1="414.80" x2="426.70" y2="494.60" stroke="#222" stroke-width="0.8" stroke-dasharray="1.5,1.5"/>
<line x1="404.50" y1="483.50" x2="512.30" y2="483.50" stroke="#222" stroke-width="0.8" stroke-dasharray="1.5,1.5"/>
<line x1="402.50" y1="419.90" x2="404.70" y2="419.90" stroke="#161616" stroke-width="0.8"/>
<text x="401.20" y="419.90" font-size="6.6" text-anchor="end" dominant-baseline="central" fill="#444" stroke="#444">0.4</text>
<line x1="402.50" y1="435.80" x2="404.70" y2="435.80" stroke="#161616" stroke-width="0.8"/>
<text x="401.20" y="435.80" font-size="6.6" text-anchor="end" dominant-baseline="central" fill="#444" stroke="#444">0.3</text>
<line x1="402.50" y1="451.70" x2="404.70" y2="451.70" stroke="#161616" stroke-width="0.8"/>
<text x="401.20" y="451.70" font-size="6.6" text-anchor="end" dominant-baseline="central" fill="#444" stroke="#444">0.2</text>
<line x1="402.50" y1="467.60" x2="404.70" y2="467.60" stroke="#161616" stroke-width="0.8"/>
<text x="401.20" y="467.60" font-size="6.6" text-anchor="end" dominant-baseline="central" fill="#444" stroke="#444">0.1</text>
<line x1="402.50" y1="483.50" x2="404.70" y2="483.50" stroke="#161616" stroke-width="0.8"/>
<text x="401.20" y="483.50" font-size="6.6" text-anchor="end" dominant-baseline="central" fill="#444" stroke="#444">0.0</text>
<line x1="405.62" y1="494.40" x2="405.62" y2="496.60" stroke="#161616" stroke-width="0.8"/>
<text x="405.62" y="502.90" font-size="6.6" text-anchor="middle" dominant-baseline="central" fill="#444" stroke="#444">−0.2</text>
<line x1="426.70" y1="494.40" x2="426.70" y2="496.60" stroke="#161616" stroke-width="0.8"/>
<text x="426.70" y="502.90" font-size="6.6" text-anchor="middle" dominant-baseline="central" fill="#444" stroke="#444">0.0</text>
<line x1="447.77" y1="494.40" x2="447.77" y2="496.60" stroke="#161616" stroke-width="0.8"/>
<text x="447.77" y="502.90" font-size="6.6" text-anchor="middle" dominant-baseline="central" fill="#444" stroke="#444">0.2</text>
<line x1="468.85" y1="494.40" x2="468.85" y2="496.60" stroke="#161616" stroke-width="0.8"/>
<text x="468.85" y="502.90" font-size="6.6" text-anchor="middle" dominant-baseline="central" fill="#444" stroke="#444">0.4</text>
<line x1="489.93" y1="494.40" x2="489.93" y2="496.60" stroke="#161616" stroke-width="0.8"/>
<text x="489.93" y="502.90" font-size="6.6" text-anchor="middle" dominant-baseline="central" fill="#444" stroke="#444">0.6</text>
<text x="457.90" y="512.40" font-size="8.4" text-anchor="middle" dominant-baseline="central" textLength="43.00" lengthAdjust="spacingAndGlyphs" stroke="#333">PC1 (45.51%)</text>
<text x="380.00" y="455.50" font-size="8.4" text-anchor="middle" dominant-baseline="central" textLength="45.00" lengthAdjust="spacingAndGlyphs" transform="rotate(-90 380.00 455.50)" stroke="#333">PC2 (20.14%)</text>
<rect x="407.40" y="416.60" width="2.40" height="2.40" fill="#173c73"/>
<rect x="407.90" y="419.20" width="2.40" height="2.40" fill="#173c73"/>
<rect x="409.40" y="421.30" width="2.40" height="2.40" fill="#173c73"/>
<rect x="410.50" y="424.40" width="2.40" height="2.40" fill="#173c73"/>
<rect x="411.80" y="427.00" width="2.40" height="2.40" fill="#173c73"/>
<rect x="406.80" y="417.80" width="2.40" height="2.40" fill="#173c73"/>
<rect x="409.30" y="417.30" width="2.40" height="2.40" fill="#173c73"/>
<polygon points="410.30,441.02 413.10,441.02 411.70,438.50" fill="#cfc49a"/>
<polygon points="421.40,443.62 424.20,443.62 422.80,441.10" fill="#cfc49a"/>
<circle cx="410.90" cy="417.60" r="1.0" fill="#e8c040"/>
<circle cx="454.00" cy="490.00" r="1.3" fill="#f0c230"/>
<circle cx="478.10" cy="483.50" r="1.3" fill="#f0c230"/>
<circle cx="476.60" cy="491.00" r="1.3" fill="#f0c230"/>
<circle cx="483.30" cy="486.80" r="1.3" fill="#f0c230"/>
<circle cx="491.60" cy="484.00" r="1.3" fill="#f0c230"/>
<polygon points="496.00,486.84 498.60,486.84 497.30,484.50" fill="#1f6d6a"/>
<polygon points="498.60,486.84 501.20,486.84 499.90,484.50" fill="#1f6d6a"/>
<polygon points="500.70,487.64 503.30,487.64 502.00,485.30" fill="#1f6d6a"/>
<polygon points="503.30,488.94 505.90,488.94 504.60,486.60" fill="#1f6d6a"/>
<polygon points="505.90,489.74 508.50,489.74 507.20,487.40" fill="#1f6d6a"/>
<rect x="444.10" y="420.70" width="2.60" height="2.60" fill="#173c73"/>
<text x="450.00" y="422.00" font-size="7.0" text-anchor="start" dominant-baseline="central" textLength="57.70" lengthAdjust="spacingAndGlyphs" stroke="#333">day21-control Abx–</text>
<polygon points="444.00,433.62 446.80,433.62 445.40,431.10" fill="#cfc49a"/>
<text x="450.00" y="432.50" font-size="7.0" text-anchor="start" dominant-baseline="central" textLength="60.00" lengthAdjust="spacingAndGlyphs" stroke="#333">day21-lcontrol Abx+</text>
<circle cx="445.40" cy="442.50" r="1.35" fill="#f0c230"/>
<text x="450.00" y="442.50" font-size="7.0" text-anchor="start" dominant-baseline="central" textLength="58.50" lengthAdjust="spacingAndGlyphs" stroke="#333">day21-ligature Abx–</text>
<polygon points="444.00,453.62 446.80,453.62 445.40,451.10" fill="#1f6d6a"/>
<text x="450.00" y="452.50" font-size="7.0" text-anchor="start" dominant-baseline="central" textLength="60.00" lengthAdjust="spacingAndGlyphs" stroke="#333">day21-ligature Abx+</text>
<text x="403.2" y="527.1" font-size="6.6" dominant-baseline="central" fill="#222" textLength="105.3" lengthAdjust="spacingAndGlyphs" stroke="#222">day21 control Abx– vs Abx+ <tspan font-style="italic">P</tspan> = .34</text>
<text x="403.2" y="536.6" font-size="6.6" dominant-baseline="central" fill="#222" textLength="104" lengthAdjust="spacingAndGlyphs" stroke="#222">day21 ligature Abx– vs Abx+ *<tspan font-style="italic">P</tspan> = .03</text>
<text x="6.70" y="548.20" font-size="12.3" text-anchor="start" dominant-baseline="central" font-weight="bold" fill="#111" textLength="8.88" lengthAdjust="spacingAndGlyphs" style="stroke-width:0.45px" stroke="#111">N</text>
<line x1="48.40" y1="580.00" x2="48.40" y2="632.40" stroke="#161616" stroke-width="1.05"/>
<line x1="46.20" y1="581.77" x2="48.40" y2="581.77" stroke="#161616" stroke-width="0.8"/>
<text x="44.20" y="581.77" font-size="7.0" text-anchor="end" dominant-baseline="central" textLength="9.24" lengthAdjust="spacingAndGlyphs" stroke="#333">2.5</text>
<line x1="46.20" y1="591.90" x2="48.40" y2="591.90" stroke="#161616" stroke-width="0.8"/>
<text x="44.20" y="591.90" font-size="7.0" text-anchor="end" dominant-baseline="central" textLength="9.24" lengthAdjust="spacingAndGlyphs" stroke="#333">2.0</text>
<line x1="46.20" y1="602.02" x2="48.40" y2="602.02" stroke="#161616" stroke-width="0.8"/>
<text x="44.20" y="602.02" font-size="7.0" text-anchor="end" dominant-baseline="central" textLength="9.24" lengthAdjust="spacingAndGlyphs" stroke="#333">1.5</text>
<line x1="46.20" y1="612.15" x2="48.40" y2="612.15" stroke="#161616" stroke-width="0.8"/>
<text x="44.20" y="612.15" font-size="7.0" text-anchor="end" dominant-baseline="central" textLength="9.24" lengthAdjust="spacingAndGlyphs" stroke="#333">1.0</text>
<line x1="46.20" y1="622.27" x2="48.40" y2="622.27" stroke="#161616" stroke-width="0.8"/>
<text x="44.20" y="622.27" font-size="7.0" text-anchor="end" dominant-baseline="central" textLength="9.24" lengthAdjust="spacingAndGlyphs" stroke="#333">0.5</text>
<line x1="46.20" y1="632.40" x2="48.40" y2="632.40" stroke="#161616" stroke-width="0.8"/>
<text x="44.20" y="632.40" font-size="7.0" text-anchor="end" dominant-baseline="central" textLength="9.24" lengthAdjust="spacingAndGlyphs" stroke="#333">0.0</text>
<text x="25.00" y="605.60" font-size="8.3" text-anchor="middle" dominant-baseline="central" textLength="44.00" lengthAdjust="spacingAndGlyphs" transform="rotate(-90 25.00 605.60)" stroke="#333">Shannon index</text>
<line x1="48.40" y1="632.40" x2="107.30" y2="632.40" stroke="#161616" stroke-width="1.05"/>
<line x1="57.40" y1="632.40" x2="57.40" y2="634.70" stroke="#161616" stroke-width="0.8"/>
<line x1="71.30" y1="632.40" x2="71.30" y2="634.70" stroke="#161616" stroke-width="0.8"/>
<line x1="84.80" y1="632.40" x2="84.80" y2="634.70" stroke="#161616" stroke-width="0.8"/>
<line x1="98.70" y1="632.40" x2="98.70" y2="634.70" stroke="#161616" stroke-width="0.8"/>
<circle cx="55.80" cy="594.60" r="0.95" fill="#eda466"/>
<circle cx="59.50" cy="594.60" r="0.95" fill="#eda466"/>
<circle cx="55.00" cy="598.20" r="0.95" fill="#eda466"/>
<circle cx="57.40" cy="598.60" r="0.95" fill="#eda466"/>
<circle cx="60.00" cy="598.20" r="0.95" fill="#eda466"/>
<line x1="53.40" y1="598.20" x2="62.50" y2="598.20" stroke="#5a4025" stroke-width="1.0"/>
<circle cx="71.30" cy="590.40" r="0.95" fill="#eda466"/>
<circle cx="71.30" cy="605.50" r="0.95" fill="#eda466"/>
<circle cx="70.00" cy="595.90" r="0.95" fill="#eda466"/>
<line x1="67.00" y1="595.90" x2="76.20" y2="595.90" stroke="#5a4025" stroke-width="1.0"/>
<circle cx="84.80" cy="609.20" r="0.95" fill="#eda466"/>
<circle cx="83.50" cy="612.00" r="0.95" fill="#eda466"/>
<circle cx="86.20" cy="612.00" r="0.95" fill="#eda466"/>
<circle cx="84.80" cy="614.50" r="0.95" fill="#eda466"/>
<circle cx="84.80" cy="617.40" r="0.95" fill="#eda466"/>
<line x1="80.80" y1="612.00" x2="89.90" y2="612.00" stroke="#5a4025" stroke-width="1.0"/>
<circle cx="98.70" cy="621.00" r="0.95" fill="#eda466"/>
<circle cx="97.50" cy="623.30" r="0.95" fill="#eda466"/>
<circle cx="100.00" cy="623.30" r="0.95" fill="#eda466"/>
<circle cx="98.70" cy="625.50" r="0.95" fill="#eda466"/>
<circle cx="98.70" cy="627.50" r="0.95" fill="#eda466"/>
<circle cx="101.00" cy="621.50" r="0.95" fill="#eda466"/>
<line x1="94.50" y1="623.30" x2="103.60" y2="623.30" stroke="#5a4025" stroke-width="1.0"/>
<polyline points="71.20,562.20 71.20,558.20 98.90,558.20 98.90,569.60" fill="none" stroke="#3c3c3c" stroke-width="0.95"/>
<text x="85.2" y="554.2" font-size="6.8" text-anchor="middle" dominant-baseline="central" stroke="#333"><tspan font-style="italic">P</tspan> = .057</text>
<polyline points="56.60,570.60 56.60,569.00 85.40,569.00 85.40,573.30" fill="none" stroke="#3c3c3c" stroke-width="0.95"/>
<text x="71.70" y="567.20" font-size="6.8" text-anchor="middle" dominant-baseline="central" stroke="#333">**</text>
<polyline points="56.60,583.30 56.60,581.20 70.60,581.20 70.60,583.30" fill="none" stroke="#3c3c3c" stroke-width="0.95"/>
<text x="64.5" y="576.4" font-size="6.8" text-anchor="middle" dominant-baseline="central" stroke="#333"><tspan font-style="italic">P</tspan> = .99</text>
<polyline points="85.40,600.00 85.40,580.90 98.90,580.90 98.90,607.50" fill="none" stroke="#3c3c3c" stroke-width="0.95"/>
<text x="92.10" y="579.30" font-size="6.8" text-anchor="middle" dominant-baseline="central" stroke="#333">*</text>
<text x="60.00" y="639.80" font-size="7.0" text-anchor="end" dominant-baseline="central" textLength="40.76" lengthAdjust="spacingAndGlyphs" transform="rotate(-28 60.00 639.80)" stroke="#333">day21 control</text>
<text x="73.50" y="640.20" font-size="7.0" text-anchor="end" dominant-baseline="central" textLength="58.69" lengthAdjust="spacingAndGlyphs" transform="rotate(-28 73.50 640.20)" stroke="#333">day21 control-Abx+</text>
<text x="87.00" y="640.20" font-size="7.0" text-anchor="end" dominant-baseline="central" textLength="42.65" lengthAdjust="spacingAndGlyphs" transform="rotate(-28 87.00 640.20)" stroke="#333">day21 ligature</text>
<text x="100.80" y="640.20" font-size="7.0" text-anchor="end" dominant-baseline="central" textLength="60.58" lengthAdjust="spacingAndGlyphs" transform="rotate(-28 100.80 640.20)" stroke="#333">day21 ligature-Abx+</text>
<text x="122.30" y="548.20" font-size="12.3" text-anchor="start" dominant-baseline="central" font-weight="bold" fill="#111" textLength="9.57" lengthAdjust="spacingAndGlyphs" style="stroke-width:0.45px" stroke="#111">O</text>
<line x1="173.40" y1="575.40" x2="173.40" y2="632.00" stroke="#161616" stroke-width="1.05"/>
<line x1="171.20" y1="581.80" x2="173.40" y2="581.80" stroke="#161616" stroke-width="0.8"/>
<text x="158.9" y="582.40" font-size="6.6" dominant-baseline="central" fill="#555" stroke="#555">e<tspan font-size="4.4" dy="-2.6">-1</tspan></text>
<line x1="171.20" y1="594.35" x2="173.40" y2="594.35" stroke="#161616" stroke-width="0.8"/>
<text x="158.9" y="594.95" font-size="6.6" dominant-baseline="central" fill="#555" stroke="#555">e<tspan font-size="4.4" dy="-2.6">-3</tspan></text>
<line x1="171.20" y1="606.90" x2="173.40" y2="606.90" stroke="#161616" stroke-width="0.8"/>
<text x="158.9" y="607.50" font-size="6.6" dominant-baseline="central" fill="#555" stroke="#555">e<tspan font-size="4.4" dy="-2.6">-5</tspan></text>
<line x1="171.20" y1="619.45" x2="173.40" y2="619.45" stroke="#161616" stroke-width="0.8"/>
<text x="158.9" y="620.05" font-size="6.6" dominant-baseline="central" fill="#555" stroke="#555">e<tspan font-size="4.4" dy="-2.6">-7</tspan></text>
<line x1="171.20" y1="632.00" x2="173.40" y2="632.00" stroke="#161616" stroke-width="0.8"/>
<text x="158.9" y="632.60" font-size="6.6" dominant-baseline="central" fill="#555" stroke="#555">e<tspan font-size="4.4" dy="-2.6">-9</tspan></text>
<line x1="173.40" y1="632.00" x2="230.40" y2="632.00" stroke="#161616" stroke-width="1.05"/>
<line x1="182.40" y1="632.00" x2="182.40" y2="634.30" stroke="#161616" stroke-width="0.8"/>
<line x1="195.20" y1="632.00" x2="195.20" y2="634.30" stroke="#161616" stroke-width="0.8"/>
<line x1="208.50" y1="632.00" x2="208.50" y2="634.30" stroke="#161616" stroke-width="0.8"/>
<line x1="221.80" y1="632.00" x2="221.80" y2="634.30" stroke="#161616" stroke-width="0.8"/>
<circle cx="182.40" cy="597.30" r="0.95" fill="#eda466"/>
<circle cx="181.00" cy="599.50" r="0.95" fill="#eda466"/>
<circle cx="183.80" cy="599.50" r="0.95" fill="#eda466"/>
<circle cx="182.40" cy="602.00" r="0.95" fill="#eda466"/>
<circle cx="182.40" cy="607.40" r="0.95" fill="#eda466"/>
<line x1="178.40" y1="599.50" x2="187.10" y2="599.50" stroke="#5a4025" stroke-width="1.0"/>
<circle cx="193.50" cy="624.70" r="0.95" fill="#eda466"/>
<circle cx="195.20" cy="630.20" r="0.95" fill="#eda466"/>
<circle cx="197.00" cy="627.50" r="0.95" fill="#eda466"/>
<line x1="191.20" y1="627.50" x2="199.40" y2="627.50" stroke="#5a4025" stroke-width="1.0"/>
<circle cx="206.50" cy="580.50" r="0.95" fill="#eda466"/>
<circle cx="208.50" cy="580.80" r="0.95" fill="#eda466"/>
<circle cx="210.50" cy="581.00" r="0.95" fill="#eda466"/>
<circle cx="207.00" cy="582.50" r="0.95" fill="#eda466"/>
<circle cx="210.00" cy="582.60" r="0.95" fill="#eda466"/>
<line x1="204.00" y1="581.80" x2="212.70" y2="581.80" stroke="#5a4025" stroke-width="1.0"/>
<circle cx="221.80" cy="595.10" r="0.95" fill="#eda466"/>
<circle cx="221.80" cy="601.30" r="0.95" fill="#eda466"/>
<circle cx="221.80" cy="610.10" r="0.95" fill="#eda466"/>
<circle cx="221.80" cy="612.30" r="0.95" fill="#eda466"/>
<line x1="217.60" y1="605.00" x2="225.90" y2="605.00" stroke="#5a4025" stroke-width="1.0"/>
<polyline points="182.40,591.00 182.40,588.20 195.70,588.20 195.70,591.00" fill="none" stroke="#3c3c3c" stroke-width="0.95"/>
<text x="189.30" y="586.20" font-size="6.8" text-anchor="middle" dominant-baseline="central" stroke="#333">*</text>
<polyline points="182.40,573.60 182.40,570.30 204.90,570.30 204.90,573.60" fill="none" stroke="#3c3c3c" stroke-width="0.95"/>
<text x="193.30" y="567.80" font-size="6.8" text-anchor="middle" dominant-baseline="central" stroke="#333">**</text>
<polyline points="208.50,573.60 208.50,570.30 222.20,570.30 222.20,573.60" fill="none" stroke="#3c3c3c" stroke-width="0.95"/>
<text x="215.30" y="568.10" font-size="6.8" text-anchor="middle" dominant-baseline="central" stroke="#333">*</text>
<polyline points="195.20,562.60 195.20,559.90 222.20,559.90 222.20,562.60" fill="none" stroke="#3c3c3c" stroke-width="0.95"/>
<text x="210.30" y="555.00" font-size="6.8" text-anchor="middle" dominant-baseline="central" stroke="#333">P = .06</text>
<text x="141.30" y="604.00" font-size="8.2" text-anchor="middle" dominant-baseline="central" textLength="70.80" lengthAdjust="spacingAndGlyphs" transform="rotate(-90 141.30 604.00)" stroke="#333">Absolute abundance of</text>
<text x="151.30" y="604.30" font-size="8.2" text-anchor="middle" dominant-baseline="central" textLength="80.70" lengthAdjust="spacingAndGlyphs" transform="rotate(-90 151.30 604.30)" stroke="#333">bacteria (copies/ 1 ligature)</text>
<text x="184.50" y="639.80" font-size="7.0" text-anchor="end" dominant-baseline="central" textLength="40.76" lengthAdjust="spacingAndGlyphs" transform="rotate(-28 184.50 639.80)" stroke="#333">day21 control</text>
<text x="197.50" y="640.20" font-size="7.0" text-anchor="end" dominant-baseline="central" textLength="60.58" lengthAdjust="spacingAndGlyphs" transform="rotate(-28 197.50 640.20)" stroke="#333">day21  control-Abx+</text>
<text x="210.80" y="640.20" font-size="7.0" text-anchor="end" dominant-baseline="central" textLength="42.65" lengthAdjust="spacingAndGlyphs" transform="rotate(-28 210.80 640.20)" stroke="#333">day21 ligature</text>
<text x="224.00" y="640.20" font-size="7.0" text-anchor="end" dominant-baseline="central" textLength="60.58" lengthAdjust="spacingAndGlyphs" transform="rotate(-28 224.00 640.20)" stroke="#333">day21 ligature-Abx+</text>
<text x="253.70" y="548.00" font-size="12.3" text-anchor="start" dominant-baseline="central" font-weight="bold" fill="#111" textLength="6.97" lengthAdjust="spacingAndGlyphs" style="stroke-width:0.45px" stroke="#111">P</text>
<text x="311.20" y="554.70" font-size="8.8" text-anchor="middle" dominant-baseline="central" fill="#222" textLength="17.70" lengthAdjust="spacingAndGlyphs" stroke="#222">CD3</text>
<line x1="293.60" y1="572.40" x2="293.60" y2="630.00" stroke="#161616" stroke-width="1.05"/>
<line x1="291.40" y1="573.20" x2="293.60" y2="573.20" stroke="#161616" stroke-width="0.8"/>
<text x="289.00" y="573.20" font-size="7.0" text-anchor="end" dominant-baseline="central" textLength="10.86" lengthAdjust="spacingAndGlyphs" stroke="#333">100</text>
<line x1="291.40" y1="592.13" x2="293.60" y2="592.13" stroke="#161616" stroke-width="0.8"/>
<text x="289.00" y="592.13" font-size="7.0" text-anchor="end" dominant-baseline="central" textLength="7.24" lengthAdjust="spacingAndGlyphs" stroke="#333">90</text>
<line x1="291.40" y1="611.07" x2="293.60" y2="611.07" stroke="#161616" stroke-width="0.8"/>
<text x="289.00" y="611.07" font-size="7.0" text-anchor="end" dominant-baseline="central" textLength="7.24" lengthAdjust="spacingAndGlyphs" stroke="#333">80</text>
<line x1="291.40" y1="630.00" x2="293.60" y2="630.00" stroke="#161616" stroke-width="0.8"/>
<text x="289.00" y="630.00" font-size="7.0" text-anchor="end" dominant-baseline="central" textLength="7.24" lengthAdjust="spacingAndGlyphs" stroke="#333">70</text>
<line x1="293.60" y1="630.00" x2="330.60" y2="630.00" stroke="#161616" stroke-width="1.05"/>
<rect x="298.50" y="592.13" width="6.50" height="37.87" fill="#f39200"/>
<line x1="301.75" y1="630.00" x2="301.75" y2="632.20" stroke="#161616" stroke-width="0.8"/>
<circle cx="299.70" cy="592.73" r="0.8" fill="#333"/>
<circle cx="301.07" cy="592.73" r="0.8" fill="#333"/>
<circle cx="302.43" cy="592.73" r="0.8" fill="#333"/>
<circle cx="303.80" cy="592.73" r="0.8" fill="#333"/>
<rect x="309.80" y="595.16" width="6.70" height="34.84" fill="#8f86c8"/>
<line x1="313.15" y1="630.00" x2="313.15" y2="632.20" stroke="#161616" stroke-width="0.8"/>
<circle cx="311.00" cy="595.76" r="0.8" fill="#333"/>
<circle cx="312.43" cy="595.76" r="0.8" fill="#333"/>
<circle cx="313.87" cy="595.76" r="0.8" fill="#333"/>
<circle cx="315.30" cy="595.76" r="0.8" fill="#333"/>
<rect x="320.90" y="595.16" width="7.10" height="34.84" fill="#3eac3e"/>
<line x1="324.45" y1="630.00" x2="324.45" y2="632.20" stroke="#161616" stroke-width="0.8"/>
<circle cx="322.10" cy="595.76" r="0.8" fill="#333"/>
<circle cx="323.67" cy="595.76" r="0.8" fill="#333"/>
<circle cx="325.23" cy="595.76" r="0.8" fill="#333"/>
<circle cx="326.80" cy="595.76" r="0.8" fill="#333"/>
<line x1="301.75" y1="592.13" x2="301.75" y2="588.73" stroke="#333" stroke-width="0.7"/>
<line x1="300.55" y1="588.73" x2="302.95" y2="588.73" stroke="#333" stroke-width="0.7"/>
<polyline points="301.90,581.20 301.90,578.60 313.00,578.60 313.00,581.20" fill="none" stroke="#3c3c3c" stroke-width="0.95"/>
<text x="307.45" y="575.30" font-size="6.8" text-anchor="middle" dominant-baseline="central" stroke="#333">*</text>
<polyline points="301.90,572.40 301.90,569.70 324.50,569.70 324.50,572.40" fill="none" stroke="#3c3c3c" stroke-width="0.95"/>
<text x="313.20" y="564.40" font-size="6.8" text-anchor="middle" dominant-baseline="central" stroke="#333"><tspan font-style="italic">P</tspan> = .31</text>
<text x="269.70" y="599.80" font-size="8.2" text-anchor="middle" dominant-baseline="central" textLength="64.50" lengthAdjust="spacingAndGlyphs" transform="rotate(-90 269.70 599.80)" stroke="#333">Proliferating cells (%)</text>
<text x="304.95" y="639.30" font-size="6.7" text-anchor="end" dominant-baseline="central" textLength="20.43" lengthAdjust="spacingAndGlyphs" transform="rotate(-30 304.95 639.30)" stroke="#333">ligature</text>
<text x="316.35" y="639.30" font-size="6.7" text-anchor="end" dominant-baseline="central" textLength="44.67" lengthAdjust="spacingAndGlyphs" transform="rotate(-30 316.35 639.30)" stroke="#333">ligature-removal</text>
<text x="327.65" y="639.30" font-size="6.7" text-anchor="end" dominant-baseline="central" textLength="36.89" lengthAdjust="spacingAndGlyphs" transform="rotate(-30 327.65 639.30)" stroke="#333">ligature-Abx+</text>
<text x="402.10" y="554.70" font-size="8.8" text-anchor="middle" dominant-baseline="central" fill="#222" textLength="17.70" lengthAdjust="spacingAndGlyphs" stroke="#222">CD4</text>
<line x1="383.60" y1="572.40" x2="383.60" y2="630.00" stroke="#161616" stroke-width="1.05"/>
<line x1="381.40" y1="573.20" x2="383.60" y2="573.20" stroke="#161616" stroke-width="0.8"/>
<text x="379.00" y="573.20" font-size="7.0" text-anchor="end" dominant-baseline="central" textLength="10.86" lengthAdjust="spacingAndGlyphs" stroke="#333">100</text>
<line x1="381.40" y1="587.40" x2="383.60" y2="587.40" stroke="#161616" stroke-width="0.8"/>
<text x="379.00" y="587.40" font-size="7.0" text-anchor="end" dominant-baseline="central" textLength="7.24" lengthAdjust="spacingAndGlyphs" stroke="#333">90</text>
<line x1="381.40" y1="601.60" x2="383.60" y2="601.60" stroke="#161616" stroke-width="0.8"/>
<text x="379.00" y="601.60" font-size="7.0" text-anchor="end" dominant-baseline="central" textLength="7.24" lengthAdjust="spacingAndGlyphs" stroke="#333">80</text>
<line x1="381.40" y1="615.80" x2="383.60" y2="615.80" stroke="#161616" stroke-width="0.8"/>
<text x="379.00" y="615.80" font-size="7.0" text-anchor="end" dominant-baseline="central" textLength="7.24" lengthAdjust="spacingAndGlyphs" stroke="#333">70</text>
<line x1="381.40" y1="630.00" x2="383.60" y2="630.00" stroke="#161616" stroke-width="0.8"/>
<text x="379.00" y="630.00" font-size="7.0" text-anchor="end" dominant-baseline="central" textLength="7.24" lengthAdjust="spacingAndGlyphs" stroke="#333">60</text>
<line x1="383.60" y1="630.00" x2="420.60" y2="630.00" stroke="#161616" stroke-width="1.05"/>
<rect x="388.00" y="601.32" width="7.00" height="28.68" fill="#f39200"/>
<line x1="391.50" y1="630.00" x2="391.50" y2="632.20" stroke="#161616" stroke-width="0.8"/>
<circle cx="389.20" cy="601.92" r="0.8" fill="#333"/>
<circle cx="390.73" cy="601.92" r="0.8" fill="#333"/>
<circle cx="392.27" cy="601.92" r="0.8" fill="#333"/>
<circle cx="393.80" cy="601.92" r="0.8" fill="#333"/>
<rect x="399.10" y="609.69" width="7.10" height="20.31" fill="#8f86c8"/>
<line x1="402.65" y1="630.00" x2="402.65" y2="632.20" stroke="#161616" stroke-width="0.8"/>
<circle cx="400.30" cy="610.29" r="0.8" fill="#333"/>
<circle cx="401.87" cy="610.29" r="0.8" fill="#333"/>
<circle cx="403.43" cy="610.29" r="0.8" fill="#333"/>
<circle cx="405.00" cy="610.29" r="0.8" fill="#333"/>
<rect x="410.60" y="608.70" width="6.90" height="21.30" fill="#3eac3e"/>
<line x1="414.05" y1="630.00" x2="414.05" y2="632.20" stroke="#161616" stroke-width="0.8"/>
<circle cx="411.80" cy="609.30" r="0.8" fill="#333"/>
<circle cx="413.30" cy="609.30" r="0.8" fill="#333"/>
<circle cx="414.80" cy="609.30" r="0.8" fill="#333"/>
<circle cx="416.30" cy="609.30" r="0.8" fill="#333"/>
<line x1="402.65" y1="615.80" x2="402.65" y2="603.02" stroke="#333" stroke-width="0.7"/>
<line x1="401.45" y1="603.02" x2="403.85" y2="603.02" stroke="#333" stroke-width="0.7"/>
<polyline points="391.10,594.80 391.10,592.30 402.60,592.30 402.60,594.80" fill="none" stroke="#3c3c3c" stroke-width="0.95"/>
<text x="396.85" y="589.40" font-size="6.8" text-anchor="middle" dominant-baseline="central" stroke="#333">*</text>
<polyline points="391.10,583.90 391.10,581.20 413.90,581.20 413.90,596.20" fill="none" stroke="#3c3c3c" stroke-width="0.95"/>
<text x="402.50" y="578.00" font-size="6.8" text-anchor="middle" dominant-baseline="central" stroke="#333">*</text>
<text x="359.70" y="599.80" font-size="8.2" text-anchor="middle" dominant-baseline="central" textLength="64.50" lengthAdjust="spacingAndGlyphs" transform="rotate(-90 359.70 599.80)" stroke="#333">Proliferating cells (%)</text>
<text x="394.70" y="639.30" font-size="6.7" text-anchor="end" dominant-baseline="central" textLength="20.43" lengthAdjust="spacingAndGlyphs" transform="rotate(-30 394.70 639.30)" stroke="#333">ligature</text>
<text x="405.85" y="639.30" font-size="6.7" text-anchor="end" dominant-baseline="central" textLength="44.67" lengthAdjust="spacingAndGlyphs" transform="rotate(-30 405.85 639.30)" stroke="#333">ligature-removal</text>
<text x="417.25" y="639.30" font-size="6.7" text-anchor="end" dominant-baseline="central" textLength="36.89" lengthAdjust="spacingAndGlyphs" transform="rotate(-30 417.25 639.30)" stroke="#333">ligature-Abx+</text>
<text x="492.10" y="554.70" font-size="8.8" text-anchor="middle" dominant-baseline="central" fill="#222" textLength="17.70" lengthAdjust="spacingAndGlyphs" stroke="#222">CD8</text>
<line x1="473.00" y1="572.40" x2="473.00" y2="630.00" stroke="#161616" stroke-width="1.05"/>
<line x1="470.80" y1="573.20" x2="473.00" y2="573.20" stroke="#161616" stroke-width="0.8"/>
<text x="468.40" y="573.20" font-size="7.0" text-anchor="end" dominant-baseline="central" textLength="10.86" lengthAdjust="spacingAndGlyphs" stroke="#333">100</text>
<line x1="470.80" y1="592.13" x2="473.00" y2="592.13" stroke="#161616" stroke-width="0.8"/>
<text x="468.40" y="592.13" font-size="7.0" text-anchor="end" dominant-baseline="central" textLength="7.24" lengthAdjust="spacingAndGlyphs" stroke="#333">95</text>
<line x1="470.80" y1="611.07" x2="473.00" y2="611.07" stroke="#161616" stroke-width="0.8"/>
<text x="468.40" y="611.07" font-size="7.0" text-anchor="end" dominant-baseline="central" textLength="7.24" lengthAdjust="spacingAndGlyphs" stroke="#333">90</text>
<line x1="470.80" y1="630.00" x2="473.00" y2="630.00" stroke="#161616" stroke-width="0.8"/>
<text x="468.40" y="630.00" font-size="7.0" text-anchor="end" dominant-baseline="central" textLength="7.24" lengthAdjust="spacingAndGlyphs" stroke="#333">85</text>
<line x1="473.00" y1="630.00" x2="508.90" y2="630.00" stroke="#161616" stroke-width="1.05"/>
<rect x="477.10" y="592.89" width="7.10" height="37.11" fill="#f39200"/>
<line x1="480.65" y1="630.00" x2="480.65" y2="632.20" stroke="#161616" stroke-width="0.8"/>
<circle cx="478.30" cy="593.49" r="0.8" fill="#333"/>
<circle cx="479.87" cy="593.49" r="0.8" fill="#333"/>
<circle cx="481.43" cy="593.49" r="0.8" fill="#333"/>
<circle cx="483.00" cy="593.49" r="0.8" fill="#333"/>
<rect x="488.60" y="599.33" width="6.50" height="30.67" fill="#8f86c8"/>
<line x1="491.85" y1="630.00" x2="491.85" y2="632.20" stroke="#161616" stroke-width="0.8"/>
<circle cx="489.80" cy="599.93" r="0.8" fill="#333"/>
<circle cx="491.17" cy="599.93" r="0.8" fill="#333"/>
<circle cx="492.53" cy="599.93" r="0.8" fill="#333"/>
<circle cx="493.90" cy="599.93" r="0.8" fill="#333"/>
<rect x="500.00" y="596.68" width="6.80" height="33.32" fill="#3eac3e"/>
<line x1="503.40" y1="630.00" x2="503.40" y2="632.20" stroke="#161616" stroke-width="0.8"/>
<circle cx="501.20" cy="597.28" r="0.8" fill="#333"/>
<circle cx="502.67" cy="597.28" r="0.8" fill="#333"/>
<circle cx="504.13" cy="597.28" r="0.8" fill="#333"/>
<circle cx="505.60" cy="597.28" r="0.8" fill="#333"/>
<line x1="491.85" y1="601.22" x2="491.85" y2="597.81" stroke="#333" stroke-width="0.7"/>
<line x1="490.65" y1="597.81" x2="493.05" y2="597.81" stroke="#333" stroke-width="0.7"/>
<line x1="503.40" y1="597.81" x2="503.40" y2="595.16" stroke="#333" stroke-width="0.7"/>
<line x1="502.20" y1="595.16" x2="504.60" y2="595.16" stroke="#333" stroke-width="0.7"/>
<polyline points="479.20,586.00 479.20,583.50 491.60,583.50 491.60,586.00" fill="none" stroke="#3c3c3c" stroke-width="0.95"/>
<text x="485.40" y="580.60" font-size="6.8" text-anchor="middle" dominant-baseline="central" stroke="#333">*</text>
<polyline points="479.20,573.60 479.20,571.10 502.70,571.10 502.70,587.10" fill="none" stroke="#3c3c3c" stroke-width="0.95"/>
<text x="490.95" y="568.90" font-size="6.8" text-anchor="middle" dominant-baseline="central" stroke="#333">**</text>
<text x="448.00" y="599.80" font-size="8.2" text-anchor="middle" dominant-baseline="central" textLength="64.50" lengthAdjust="spacingAndGlyphs" transform="rotate(-90 448.00 599.80)" stroke="#333">Proliferating cells (%)</text>
<text x="483.85" y="639.30" font-size="6.7" text-anchor="end" dominant-baseline="central" textLength="20.43" lengthAdjust="spacingAndGlyphs" transform="rotate(-30 483.85 639.30)" stroke="#333">ligature</text>
<text x="495.05" y="639.30" font-size="6.7" text-anchor="end" dominant-baseline="central" textLength="44.67" lengthAdjust="spacingAndGlyphs" transform="rotate(-30 495.05 639.30)" stroke="#333">ligature-removal</text>
<text x="506.60" y="639.30" font-size="6.7" text-anchor="end" dominant-baseline="central" textLength="36.89" lengthAdjust="spacingAndGlyphs" transform="rotate(-30 506.60 639.30)" stroke="#333">ligature-Abx+</text>
<rect x="0.5" y="0.5" width="519" height="679" fill="none" stroke="#3a3a3a" stroke-width="1"/>
</svg>
</body></html>
